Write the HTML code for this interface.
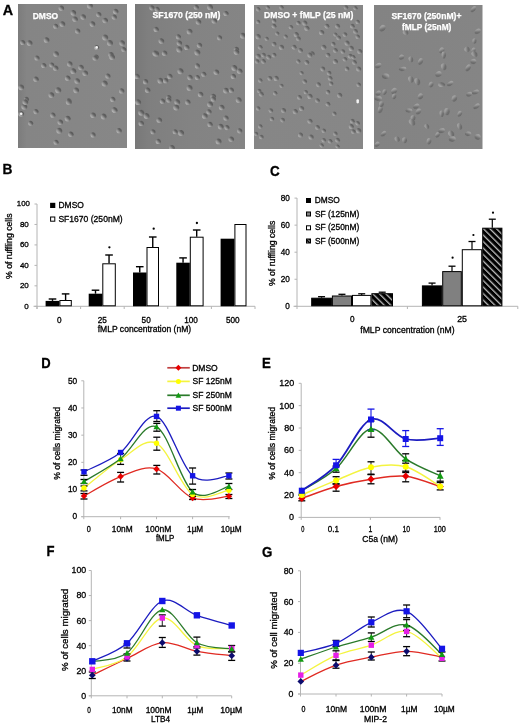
<!DOCTYPE html>
<html><head><meta charset="utf-8"><style>
html,body{margin:0;padding:0;background:#fff;}
svg{display:block;font-family:"Liberation Sans",sans-serif;filter:blur(0.3px);}
</style></head><body>
<svg width="520" height="723" viewBox="0 0 520 723">
<defs>
<linearGradient id="cell" x1="0.15" y1="0.85" x2="0.85" y2="0.15">
<stop offset="0" stop-color="#b4b4b4"/><stop offset="0.22" stop-color="#a2a2a2"/><stop offset="0.42" stop-color="#888"/><stop offset="0.6" stop-color="#6a6a6a"/><stop offset="0.82" stop-color="#5a5a5a"/><stop offset="1" stop-color="#6c6c6c"/>
</linearGradient>
<linearGradient id="cell3" x1="0.15" y1="0.85" x2="0.85" y2="0.15">
<stop offset="0" stop-color="#b0b0b0"/><stop offset="0.22" stop-color="#a0a0a0"/><stop offset="0.42" stop-color="#888"/><stop offset="0.6" stop-color="#6c6c6c"/><stop offset="0.82" stop-color="#606060"/><stop offset="1" stop-color="#707070"/>
</linearGradient>
<linearGradient id="cell2" x1="0.15" y1="0.85" x2="0.85" y2="0.15">
<stop offset="0" stop-color="#a4a4a4"/><stop offset="0.25" stop-color="#9a9a9a"/><stop offset="0.45" stop-color="#868686"/><stop offset="0.65" stop-color="#727272"/><stop offset="0.85" stop-color="#6a6a6a"/><stop offset="1" stop-color="#787878"/>
</linearGradient>
<linearGradient id="bg0" x1="0" y1="0" x2="1" y2="0"><stop offset="0" stop-color="#7c7c7c"/><stop offset="0.08" stop-color="#858585"/><stop offset="1" stop-color="#878787"/></linearGradient>
<linearGradient id="bg1" x1="0" y1="0" x2="1" y2="0"><stop offset="0" stop-color="#787878"/><stop offset="0.12" stop-color="#7f7f7f"/><stop offset="0.5" stop-color="#838383"/><stop offset="1" stop-color="#858585"/></linearGradient>
<linearGradient id="bg2" x1="0" y1="0" x2="1" y2="0"><stop offset="0" stop-color="#868686"/><stop offset="1" stop-color="#878787"/></linearGradient>
<linearGradient id="bg3" x1="0" y1="0" x2="1" y2="0"><stop offset="0" stop-color="#838383"/><stop offset="1" stop-color="#858585"/></linearGradient>
<filter id="soft" x="-5%" y="-5%" width="110%" height="110%"><feGaussianBlur stdDeviation="0.45"/></filter>
</defs>
<rect width="520" height="723" fill="#fff"/>
<text x="2.64" y="14.9" font-size="14.8" font-weight="bold" fill="#000" stroke="#000" stroke-width="0.3" textLength="10.35" lengthAdjust="spacingAndGlyphs">A</text>
<rect x="18" y="4" width="109" height="144" fill="url(#bg0)"/>
<g clip-path="url(#clip0)" filter="url(#soft)">
<circle cx="61.4" cy="8.2" r="2.73" fill="url(#cell)"/>
<circle cx="73.4" cy="12.9" r="2.78" fill="url(#cell)"/>
<circle cx="89.9" cy="5.7" r="2.96" fill="url(#cell)"/>
<circle cx="115.7" cy="11.4" r="2.73" fill="url(#cell)"/>
<circle cx="75.1" cy="19.2" r="2.75" fill="url(#cell)"/>
<circle cx="83.2" cy="17.1" r="2.79" fill="url(#cell)"/>
<circle cx="98.8" cy="14.6" r="2.59" fill="url(#cell)"/>
<circle cx="105.2" cy="20.5" r="2.76" fill="url(#cell)"/>
<circle cx="92.5" cy="24.1" r="2.81" fill="url(#cell)"/>
<circle cx="62.4" cy="24.1" r="2.9" fill="url(#cell)"/>
<circle cx="55.7" cy="26.2" r="2.55" fill="url(#cell)"/>
<circle cx="77.7" cy="31.1" r="2.65" fill="url(#cell)"/>
<circle cx="22.7" cy="42.5" r="2.55" fill="url(#cell)"/>
<circle cx="29.6" cy="43.1" r="2.9" fill="url(#cell)"/>
<circle cx="46.6" cy="40" r="2.85" fill="url(#cell)"/>
<circle cx="96.7" cy="47.4" r="2.52" fill="url(#cell)"/>
<circle cx="105.2" cy="37.4" r="2.99" fill="url(#cell)"/>
<circle cx="110" cy="43.1" r="2.98" fill="url(#cell)"/>
<circle cx="122.1" cy="43.1" r="2.83" fill="url(#cell)"/>
<circle cx="56.1" cy="54.1" r="2.81" fill="url(#cell)"/>
<circle cx="37" cy="58" r="2.58" fill="url(#cell)"/>
<circle cx="96.3" cy="56.9" r="2.51" fill="url(#cell)"/>
<circle cx="111.1" cy="54.8" r="2.76" fill="url(#cell)"/>
<circle cx="123.8" cy="49.5" r="2.53" fill="url(#cell)"/>
<circle cx="114.3" cy="17.1" r="2.6" fill="url(#cell)"/>
<circle cx="43.8" cy="65.5" r="2.62" fill="url(#cell)"/>
<circle cx="51.8" cy="64.9" r="2.52" fill="url(#cell)"/>
<circle cx="55.7" cy="68.3" r="2.73" fill="url(#cell)"/>
<circle cx="69.8" cy="64" r="2.72" fill="url(#cell)"/>
<circle cx="73.4" cy="71.2" r="2.92" fill="url(#cell)"/>
<circle cx="81" cy="67.6" r="2.76" fill="url(#cell)"/>
<circle cx="85.3" cy="73.3" r="2.82" fill="url(#cell)"/>
<circle cx="67.7" cy="78.2" r="2.75" fill="url(#cell)"/>
<circle cx="77.2" cy="81" r="2.83" fill="url(#cell)"/>
<circle cx="36" cy="79.3" r="2.73" fill="url(#cell)"/>
<circle cx="107.9" cy="76.1" r="2.64" fill="url(#cell)"/>
<circle cx="104.7" cy="83.5" r="3" fill="url(#cell)"/>
<circle cx="58.2" cy="90.3" r="3" fill="url(#cell)"/>
<circle cx="51.4" cy="95.1" r="2.92" fill="url(#cell)"/>
<circle cx="76.2" cy="90.3" r="2.85" fill="url(#cell)"/>
<circle cx="121.7" cy="90.9" r="2.66" fill="url(#cell)"/>
<circle cx="112.8" cy="99.4" r="2.61" fill="url(#cell)"/>
<circle cx="68.8" cy="100.8" r="2.64" fill="url(#cell)"/>
<circle cx="26.5" cy="99.4" r="2.54" fill="url(#cell)"/>
<circle cx="21.2" cy="87.3" r="2.88" fill="url(#cell)"/>
<circle cx="95.2" cy="58.1" r="2.7" fill="url(#cell)"/>
<circle cx="112.1" cy="57.1" r="2.92" fill="url(#cell)"/>
<circle cx="114.3" cy="110" r="2.69" fill="url(#cell)"/>
<circle cx="24.3" cy="106.8" r="2.98" fill="url(#cell)"/>
<circle cx="21.2" cy="113.8" r="2.92" fill="url(#cell)"/>
<circle cx="30.7" cy="123.3" r="2.5" fill="url(#cell)"/>
<circle cx="52.9" cy="115.2" r="2.6" fill="url(#cell)"/>
<circle cx="67.7" cy="118.6" r="2.96" fill="url(#cell)"/>
<circle cx="60.3" cy="122.2" r="2.73" fill="url(#cell)"/>
<circle cx="59.3" cy="130.7" r="2.99" fill="url(#cell)"/>
<circle cx="70.9" cy="134.3" r="2.7" fill="url(#cell)"/>
<circle cx="56.1" cy="142.3" r="2.54" fill="url(#cell)"/>
<circle cx="93.1" cy="115.2" r="2.81" fill="url(#cell)"/>
<circle cx="103.7" cy="116.5" r="2.89" fill="url(#cell)"/>
<circle cx="114.9" cy="110.2" r="2.63" fill="url(#cell)"/>
<circle cx="93.1" cy="134.9" r="2.54" fill="url(#cell)"/>
<circle cx="119.1" cy="130.7" r="2.67" fill="url(#cell)"/>
<circle cx="68.8" cy="102.1" r="2.98" fill="url(#cell)"/>
<circle cx="25.4" cy="102.1" r="2.88" fill="url(#cell)"/>
<circle cx="36" cy="111.6" r="2.56" fill="url(#cell)"/>
<circle cx="21.2" cy="113.8" r="1.3" fill="#f4f4f4"/>
<circle cx="96.7" cy="47.4" r="1.3" fill="#f4f4f4"/>
</g>
<clipPath id="clip0"><rect x="18" y="4" width="109" height="144"/></clipPath>
<rect x="135" y="4" width="110" height="145" fill="url(#bg1)"/>
<g clip-path="url(#clip1)" filter="url(#soft)">
<circle cx="151.9" cy="7.8" r="2.62" fill="url(#cell)"/>
<circle cx="157.2" cy="9.3" r="2.55" fill="url(#cell)"/>
<circle cx="196.3" cy="7.2" r="2.53" fill="url(#cell)"/>
<circle cx="210.1" cy="7.2" r="2.9" fill="url(#cell)"/>
<circle cx="226" cy="13.5" r="2.59" fill="url(#cell)"/>
<circle cx="198.5" cy="22" r="2.78" fill="url(#cell)"/>
<circle cx="214.3" cy="20.9" r="2.72" fill="url(#cell)"/>
<circle cx="156.2" cy="29.4" r="2.6" fill="url(#cell)"/>
<circle cx="189.6" cy="31.5" r="2.87" fill="url(#cell)"/>
<circle cx="178.4" cy="36.8" r="2.57" fill="url(#cell)"/>
<circle cx="161.4" cy="41" r="2.82" fill="url(#cell)"/>
<circle cx="219.6" cy="37.8" r="2.56" fill="url(#cell)"/>
<circle cx="179.4" cy="43.1" r="2.71" fill="url(#cell)"/>
<circle cx="199.5" cy="45.3" r="2.61" fill="url(#cell)"/>
<circle cx="186.8" cy="47.4" r="2.63" fill="url(#cell)"/>
<circle cx="179.4" cy="49.5" r="2.99" fill="url(#cell)"/>
<circle cx="156.2" cy="53.7" r="2.9" fill="url(#cell)"/>
<circle cx="236.5" cy="49.5" r="2.65" fill="url(#cell)"/>
<circle cx="242.9" cy="35.7" r="2.94" fill="url(#cell)"/>
<circle cx="155.1" cy="53.2" r="2.61" fill="url(#cell)"/>
<circle cx="164.6" cy="53.2" r="2.7" fill="url(#cell)"/>
<circle cx="197.4" cy="52.5" r="2.93" fill="url(#cell)"/>
<circle cx="236.5" cy="52.1" r="2.82" fill="url(#cell)"/>
<circle cx="197.4" cy="65.9" r="2.55" fill="url(#cell)"/>
<circle cx="180.5" cy="71.2" r="2.99" fill="url(#cell)"/>
<circle cx="169.9" cy="76.4" r="2.61" fill="url(#cell)"/>
<circle cx="145.6" cy="81.7" r="2.63" fill="url(#cell)"/>
<circle cx="160.4" cy="80.7" r="2.89" fill="url(#cell)"/>
<circle cx="165.7" cy="80.7" r="2.66" fill="url(#cell)"/>
<circle cx="190" cy="77.5" r="2.65" fill="url(#cell)"/>
<circle cx="197.4" cy="77.5" r="2.54" fill="url(#cell)"/>
<circle cx="203.8" cy="74.3" r="2.55" fill="url(#cell)"/>
<circle cx="216.4" cy="72.2" r="2.79" fill="url(#cell)"/>
<circle cx="233.4" cy="76.4" r="2.62" fill="url(#cell)"/>
<circle cx="239.7" cy="71.2" r="2.8" fill="url(#cell)"/>
<circle cx="137.1" cy="76.4" r="2.69" fill="url(#cell)"/>
<circle cx="147.7" cy="90.2" r="2.73" fill="url(#cell)"/>
<circle cx="189.6" cy="88.1" r="2.98" fill="url(#cell)"/>
<circle cx="200.6" cy="94.4" r="2.74" fill="url(#cell)"/>
<circle cx="213.3" cy="96.5" r="2.79" fill="url(#cell)"/>
<circle cx="226" cy="90.6" r="2.93" fill="url(#cell)"/>
<circle cx="231.3" cy="90.2" r="2.59" fill="url(#cell)"/>
<circle cx="168.8" cy="97.6" r="2.58" fill="url(#cell)"/>
<circle cx="234.4" cy="68" r="2.95" fill="url(#cell)"/>
<circle cx="138.2" cy="102.2" r="2.91" fill="url(#cell)"/>
<circle cx="162.5" cy="101.2" r="2.62" fill="url(#cell)"/>
<circle cx="168.8" cy="100.1" r="2.59" fill="url(#cell)"/>
<circle cx="177.3" cy="102.2" r="2.87" fill="url(#cell)"/>
<circle cx="176.3" cy="107.5" r="2.97" fill="url(#cell)"/>
<circle cx="187.9" cy="102.2" r="2.6" fill="url(#cell)"/>
<circle cx="141.3" cy="112.8" r="2.98" fill="url(#cell)"/>
<circle cx="146.6" cy="116" r="2.94" fill="url(#cell)"/>
<circle cx="159.3" cy="120.2" r="2.8" fill="url(#cell)"/>
<circle cx="141.3" cy="123.4" r="2.71" fill="url(#cell)"/>
<circle cx="153" cy="131.8" r="2.55" fill="url(#cell)"/>
<circle cx="175.2" cy="131.8" r="2.52" fill="url(#cell)"/>
<circle cx="181.1" cy="132.9" r="2.98" fill="url(#cell)"/>
<circle cx="158.3" cy="141.4" r="2.62" fill="url(#cell)"/>
<circle cx="204.8" cy="116" r="2.85" fill="url(#cell)"/>
<circle cx="209" cy="111.8" r="2.63" fill="url(#cell)"/>
<circle cx="210.1" cy="104.3" r="2.91" fill="url(#cell)"/>
<circle cx="221.7" cy="107.5" r="2.8" fill="url(#cell)"/>
<circle cx="226" cy="118.1" r="2.65" fill="url(#cell)"/>
<circle cx="210.1" cy="124.4" r="2.59" fill="url(#cell)"/>
<circle cx="220.7" cy="126.6" r="2.86" fill="url(#cell)"/>
<circle cx="227" cy="127.6" r="2.53" fill="url(#cell)"/>
<circle cx="239.7" cy="130.8" r="2.61" fill="url(#cell)"/>
<circle cx="231.3" cy="139.3" r="2.78" fill="url(#cell)"/>
<circle cx="218.6" cy="141.4" r="2.93" fill="url(#cell)"/>
<circle cx="172" cy="147.7" r="2.81" fill="url(#cell)"/>
<circle cx="213.3" cy="99" r="2.64" fill="url(#cell)"/>
<circle cx="238.7" cy="100.1" r="2.96" fill="url(#cell)"/>
</g>
<clipPath id="clip1"><rect x="135" y="4" width="110" height="145"/></clipPath>
<rect x="254" y="5" width="109" height="144" fill="url(#bg2)"/>
<g clip-path="url(#clip2)" filter="url(#soft)">
<circle cx="258.2" cy="9.2" r="2.2" fill="url(#cell3)"/>
<circle cx="267.8" cy="7.5" r="2.11" fill="url(#cell3)"/>
<circle cx="281.5" cy="7.5" r="2.23" fill="url(#cell3)"/>
<circle cx="346" cy="7.5" r="2.32" fill="url(#cell3)"/>
<circle cx="355.5" cy="8.2" r="2.13" fill="url(#cell3)"/>
<circle cx="258.2" cy="21.9" r="2.19" fill="url(#cell3)"/>
<circle cx="274.1" cy="20.9" r="2.28" fill="url(#cell3)"/>
<circle cx="274.1" cy="26.2" r="2.39" fill="url(#cell3)"/>
<circle cx="291" cy="27.2" r="2.17" fill="url(#cell3)"/>
<circle cx="298.4" cy="23" r="2.28" fill="url(#cell3)"/>
<circle cx="304.8" cy="23" r="2.55" fill="url(#cell3)"/>
<circle cx="306.9" cy="28.3" r="2.59" fill="url(#cell3)"/>
<circle cx="327" cy="26.2" r="2.43" fill="url(#cell3)"/>
<circle cx="337.6" cy="26.2" r="2.45" fill="url(#cell3)"/>
<circle cx="352.4" cy="26.2" r="2.39" fill="url(#cell3)"/>
<circle cx="357.7" cy="21.9" r="2.17" fill="url(#cell3)"/>
<circle cx="277.3" cy="33.6" r="2.12" fill="url(#cell3)"/>
<circle cx="285.7" cy="36.7" r="2.11" fill="url(#cell3)"/>
<circle cx="296.3" cy="34.6" r="2.56" fill="url(#cell3)"/>
<circle cx="298.4" cy="38.8" r="2.45" fill="url(#cell3)"/>
<circle cx="321.7" cy="32.5" r="2.58" fill="url(#cell3)"/>
<circle cx="335.4" cy="34.6" r="2.11" fill="url(#cell3)"/>
<circle cx="338.6" cy="37.8" r="2.42" fill="url(#cell3)"/>
<circle cx="345" cy="34.6" r="2.34" fill="url(#cell3)"/>
<circle cx="355.5" cy="31.4" r="2.47" fill="url(#cell3)"/>
<circle cx="357.7" cy="36.7" r="2.26" fill="url(#cell3)"/>
<circle cx="258.2" cy="36.7" r="2.6" fill="url(#cell3)"/>
<circle cx="266.7" cy="38.8" r="2.14" fill="url(#cell3)"/>
<circle cx="260.3" cy="47.3" r="2.37" fill="url(#cell3)"/>
<circle cx="274.1" cy="44.1" r="2.47" fill="url(#cell3)"/>
<circle cx="281.5" cy="47.3" r="2.55" fill="url(#cell3)"/>
<circle cx="294.2" cy="47.3" r="2.47" fill="url(#cell3)"/>
<circle cx="300.5" cy="50.5" r="2.45" fill="url(#cell3)"/>
<circle cx="312.2" cy="53.7" r="2.5" fill="url(#cell3)"/>
<circle cx="323.8" cy="47.3" r="2.56" fill="url(#cell3)"/>
<circle cx="333.3" cy="44.1" r="2.28" fill="url(#cell3)"/>
<circle cx="335.4" cy="50.5" r="2.44" fill="url(#cell3)"/>
<circle cx="347.1" cy="43.1" r="2.55" fill="url(#cell3)"/>
<circle cx="351.3" cy="48.4" r="2.54" fill="url(#cell3)"/>
<circle cx="342.9" cy="51.5" r="2.31" fill="url(#cell3)"/>
<circle cx="359.8" cy="51.5" r="2.5" fill="url(#cell3)"/>
<circle cx="258.2" cy="56.2" r="2.53" fill="url(#cell3)"/>
<circle cx="263.5" cy="55.1" r="2.39" fill="url(#cell3)"/>
<circle cx="268.8" cy="57.2" r="2.41" fill="url(#cell3)"/>
<circle cx="257.2" cy="61.5" r="2.29" fill="url(#cell3)"/>
<circle cx="263.5" cy="61.5" r="2.39" fill="url(#cell3)"/>
<circle cx="274.1" cy="55.1" r="2.4" fill="url(#cell3)"/>
<circle cx="298.4" cy="61.5" r="2.14" fill="url(#cell3)"/>
<circle cx="306.9" cy="62.5" r="2.42" fill="url(#cell3)"/>
<circle cx="310" cy="55.1" r="2.6" fill="url(#cell3)"/>
<circle cx="335.4" cy="61.5" r="2.54" fill="url(#cell3)"/>
<circle cx="328" cy="55.1" r="2.46" fill="url(#cell3)"/>
<circle cx="345" cy="59.3" r="2.29" fill="url(#cell3)"/>
<circle cx="350.3" cy="56.2" r="2.47" fill="url(#cell3)"/>
<circle cx="354.5" cy="62.5" r="2.39" fill="url(#cell3)"/>
<circle cx="347.1" cy="68.9" r="2.32" fill="url(#cell3)"/>
<circle cx="358.7" cy="68.9" r="2.52" fill="url(#cell3)"/>
<circle cx="353.4" cy="57.2" r="2.14" fill="url(#cell3)"/>
<circle cx="322.8" cy="68.9" r="2.48" fill="url(#cell3)"/>
<circle cx="301.6" cy="73.1" r="2.11" fill="url(#cell3)"/>
<circle cx="329.1" cy="73.1" r="2.4" fill="url(#cell3)"/>
<circle cx="330.2" cy="78.4" r="2.34" fill="url(#cell3)"/>
<circle cx="331.2" cy="83.7" r="2.22" fill="url(#cell3)"/>
<circle cx="318.5" cy="84.7" r="2.45" fill="url(#cell3)"/>
<circle cx="304.8" cy="81.6" r="2.35" fill="url(#cell3)"/>
<circle cx="269.9" cy="78.4" r="2.41" fill="url(#cell3)"/>
<circle cx="276.2" cy="78.4" r="2.56" fill="url(#cell3)"/>
<circle cx="260.3" cy="80.5" r="2.23" fill="url(#cell3)"/>
<circle cx="281.5" cy="85.8" r="2.11" fill="url(#cell3)"/>
<circle cx="259.3" cy="91.1" r="2.25" fill="url(#cell3)"/>
<circle cx="261.4" cy="94.3" r="2.44" fill="url(#cell3)"/>
<circle cx="275.2" cy="93.2" r="2.2" fill="url(#cell3)"/>
<circle cx="305.8" cy="92.1" r="2.18" fill="url(#cell3)"/>
<circle cx="310" cy="96.4" r="2.55" fill="url(#cell3)"/>
<circle cx="299.5" cy="97.4" r="2.43" fill="url(#cell3)"/>
<circle cx="328" cy="92.1" r="2.32" fill="url(#cell3)"/>
<circle cx="339.7" cy="95.3" r="2.55" fill="url(#cell3)"/>
<circle cx="358.7" cy="84.7" r="2.26" fill="url(#cell3)"/>
<circle cx="317.5" cy="100.6" r="2.43" fill="url(#cell3)"/>
<circle cx="258.2" cy="108.5" r="2.2" fill="url(#cell3)"/>
<circle cx="270.9" cy="110.6" r="2.32" fill="url(#cell3)"/>
<circle cx="283.6" cy="110.6" r="2.5" fill="url(#cell3)"/>
<circle cx="295.3" cy="111.6" r="2.56" fill="url(#cell3)"/>
<circle cx="301.6" cy="108.5" r="2.54" fill="url(#cell3)"/>
<circle cx="272" cy="119" r="2.29" fill="url(#cell3)"/>
<circle cx="282.6" cy="120.1" r="2.39" fill="url(#cell3)"/>
<circle cx="260.3" cy="126.4" r="2.26" fill="url(#cell3)"/>
<circle cx="256.1" cy="133.8" r="2.17" fill="url(#cell3)"/>
<circle cx="261.4" cy="137" r="2.35" fill="url(#cell3)"/>
<circle cx="300.5" cy="134.9" r="2.52" fill="url(#cell3)"/>
<circle cx="310" cy="121.2" r="2.52" fill="url(#cell3)"/>
<circle cx="317.5" cy="127.5" r="2.46" fill="url(#cell3)"/>
<circle cx="311.1" cy="137" r="2.58" fill="url(#cell3)"/>
<circle cx="323.8" cy="130.7" r="2.24" fill="url(#cell3)"/>
<circle cx="334.4" cy="113.8" r="2.18" fill="url(#cell3)"/>
<circle cx="328" cy="104.2" r="2.33" fill="url(#cell3)"/>
<circle cx="335.4" cy="133.8" r="2.24" fill="url(#cell3)"/>
<circle cx="323.8" cy="140.2" r="2.21" fill="url(#cell3)"/>
<circle cx="330.2" cy="141.3" r="2.31" fill="url(#cell3)"/>
<circle cx="337.6" cy="140.2" r="2.41" fill="url(#cell3)"/>
<circle cx="352.4" cy="121.2" r="2.35" fill="url(#cell3)"/>
<circle cx="357.7" cy="123.3" r="2.26" fill="url(#cell3)"/>
<circle cx="351.3" cy="126.4" r="2.52" fill="url(#cell3)"/>
<circle cx="358.7" cy="130.7" r="2.59" fill="url(#cell3)"/>
<circle cx="353.4" cy="131.7" r="2.33" fill="url(#cell3)"/>
<circle cx="321.7" cy="145.5" r="2.14" fill="url(#cell3)"/>
<circle cx="337.6" cy="146.5" r="2.12" fill="url(#cell3)"/>
<circle cx="357.7" cy="100.6" r="1.3" fill="#f4f4f4"/>
<circle cx="357.7" cy="102.1" r="1.3" fill="#f4f4f4"/>
</g>
<clipPath id="clip2"><rect x="254" y="5" width="109" height="144"/></clipPath>
<rect x="374" y="5" width="108.5" height="144" fill="url(#bg3)"/>
<g clip-path="url(#clip3)" filter="url(#soft)">
<ellipse cx="473.4" cy="9.2" rx="3.67" ry="2.03" transform="rotate(127.55 473.4 9.2)" fill="url(#cell2)"/>
<ellipse cx="477.7" cy="31.4" rx="3.37" ry="2.25" transform="rotate(142.47 477.7 31.4)" fill="url(#cell2)"/>
<ellipse cx="474.5" cy="41" rx="2.82" ry="2.11" transform="rotate(81.87 474.5 41)" fill="url(#cell2)"/>
<ellipse cx="467.1" cy="49.4" rx="2.82" ry="2.66" transform="rotate(42.73 467.1 49.4)" fill="url(#cell2)"/>
<ellipse cx="473.4" cy="50.5" rx="2.94" ry="2.04" transform="rotate(113.25 473.4 50.5)" fill="url(#cell2)"/>
<ellipse cx="441.7" cy="50.5" rx="3.25" ry="2.5" transform="rotate(117.91 441.7 50.5)" fill="url(#cell2)"/>
<ellipse cx="382.5" cy="28.3" rx="3.61" ry="2.77" transform="rotate(123.21 382.5 28.3)" fill="url(#cell2)"/>
<ellipse cx="405.7" cy="32.5" rx="3" ry="2.38" transform="rotate(32.16 405.7 32.5)" fill="url(#cell2)"/>
<ellipse cx="401.5" cy="57.2" rx="2.81" ry="2.38" transform="rotate(128.55 401.5 57.2)" fill="url(#cell2)"/>
<ellipse cx="411" cy="59.3" rx="2.98" ry="2.22" transform="rotate(62.23 411 59.3)" fill="url(#cell2)"/>
<ellipse cx="420.5" cy="61.5" rx="3.5" ry="2.42" transform="rotate(110.6 420.5 61.5)" fill="url(#cell2)"/>
<ellipse cx="378.2" cy="65.7" rx="3.56" ry="2.31" transform="rotate(142.55 378.2 65.7)" fill="url(#cell2)"/>
<ellipse cx="402.6" cy="68.9" rx="3.71" ry="2.07" transform="rotate(167.87 402.6 68.9)" fill="url(#cell2)"/>
<ellipse cx="443.8" cy="55.1" rx="3.52" ry="2.1" transform="rotate(81.64 443.8 55.1)" fill="url(#cell2)"/>
<ellipse cx="443.8" cy="66.8" rx="3.43" ry="2.73" transform="rotate(67.82 443.8 66.8)" fill="url(#cell2)"/>
<ellipse cx="438.5" cy="74.2" rx="3.37" ry="2.7" transform="rotate(143.42 438.5 74.2)" fill="url(#cell2)"/>
<ellipse cx="468.1" cy="67.8" rx="3.74" ry="2.37" transform="rotate(117.24 468.1 67.8)" fill="url(#cell2)"/>
<ellipse cx="473.4" cy="61.5" rx="3" ry="2.58" transform="rotate(147.3 473.4 61.5)" fill="url(#cell2)"/>
<ellipse cx="474.5" cy="54.1" rx="3.44" ry="2.57" transform="rotate(38.39 474.5 54.1)" fill="url(#cell2)"/>
<ellipse cx="385.6" cy="76.3" rx="3.7" ry="2.78" transform="rotate(175.92 385.6 76.3)" fill="url(#cell2)"/>
<ellipse cx="411" cy="79.4" rx="3.34" ry="2.63" transform="rotate(57.67 411 79.4)" fill="url(#cell2)"/>
<ellipse cx="417.4" cy="81.6" rx="3.71" ry="2.68" transform="rotate(62.73 417.4 81.6)" fill="url(#cell2)"/>
<ellipse cx="431.1" cy="84.7" rx="2.88" ry="2.35" transform="rotate(99.05 431.1 84.7)" fill="url(#cell2)"/>
<ellipse cx="441.7" cy="84.7" rx="3.57" ry="2.39" transform="rotate(5.11 441.7 84.7)" fill="url(#cell2)"/>
<ellipse cx="450.2" cy="83.7" rx="3.61" ry="2.05" transform="rotate(143.97 450.2 83.7)" fill="url(#cell2)"/>
<ellipse cx="378.2" cy="93.2" rx="2.97" ry="2.27" transform="rotate(141.82 378.2 93.2)" fill="url(#cell2)"/>
<ellipse cx="384.6" cy="92.1" rx="2.94" ry="2.12" transform="rotate(92.97 384.6 92.1)" fill="url(#cell2)"/>
<ellipse cx="394.1" cy="91.1" rx="3.52" ry="2.67" transform="rotate(124.09 394.1 91.1)" fill="url(#cell2)"/>
<ellipse cx="378.2" cy="98.5" rx="3.75" ry="2.39" transform="rotate(170.85 378.2 98.5)" fill="url(#cell2)"/>
<ellipse cx="394.1" cy="96.4" rx="2.89" ry="2.18" transform="rotate(94.8 394.1 96.4)" fill="url(#cell2)"/>
<ellipse cx="420.5" cy="96.4" rx="3.09" ry="2.58" transform="rotate(115 420.5 96.4)" fill="url(#cell2)"/>
<ellipse cx="454.4" cy="98.5" rx="3.32" ry="2.67" transform="rotate(100.79 454.4 98.5)" fill="url(#cell2)"/>
<ellipse cx="469.2" cy="94.3" rx="3.11" ry="2.3" transform="rotate(152.15 469.2 94.3)" fill="url(#cell2)"/>
<ellipse cx="475.5" cy="92.1" rx="3.7" ry="2.17" transform="rotate(153.14 475.5 92.1)" fill="url(#cell2)"/>
<ellipse cx="380.3" cy="109.5" rx="3.77" ry="2.42" transform="rotate(103.14 380.3 109.5)" fill="url(#cell2)"/>
<ellipse cx="381.4" cy="104.2" rx="3" ry="2.43" transform="rotate(90.57 381.4 104.2)" fill="url(#cell2)"/>
<ellipse cx="408.9" cy="110.6" rx="3.41" ry="2.02" transform="rotate(174.49 408.9 110.6)" fill="url(#cell2)"/>
<ellipse cx="416.3" cy="106.3" rx="3.32" ry="2.32" transform="rotate(144.19 416.3 106.3)" fill="url(#cell2)"/>
<ellipse cx="418.4" cy="111.6" rx="3.36" ry="2.39" transform="rotate(124.38 418.4 111.6)" fill="url(#cell2)"/>
<ellipse cx="413.1" cy="118" rx="2.87" ry="2.43" transform="rotate(74.48 413.1 118)" fill="url(#cell2)"/>
<ellipse cx="412.1" cy="122.2" rx="3.76" ry="2.74" transform="rotate(48.46 412.1 122.2)" fill="url(#cell2)"/>
<ellipse cx="441.7" cy="113.8" rx="3.27" ry="2.1" transform="rotate(78.06 441.7 113.8)" fill="url(#cell2)"/>
<ellipse cx="447" cy="111.6" rx="3.62" ry="2.72" transform="rotate(85.78 447 111.6)" fill="url(#cell2)"/>
<ellipse cx="459.7" cy="113.8" rx="3.12" ry="2.15" transform="rotate(111.22 459.7 113.8)" fill="url(#cell2)"/>
<ellipse cx="476.6" cy="106.3" rx="3.73" ry="2.1" transform="rotate(140.27 476.6 106.3)" fill="url(#cell2)"/>
<ellipse cx="426.9" cy="126.4" rx="2.82" ry="2.16" transform="rotate(40.91 426.9 126.4)" fill="url(#cell2)"/>
<ellipse cx="459.7" cy="126.4" rx="3.49" ry="2.26" transform="rotate(63.96 459.7 126.4)" fill="url(#cell2)"/>
<ellipse cx="383.5" cy="133.8" rx="3.42" ry="2.08" transform="rotate(131.56 383.5 133.8)" fill="url(#cell2)"/>
<ellipse cx="397.3" cy="139.1" rx="2.92" ry="2.41" transform="rotate(45.1 397.3 139.1)" fill="url(#cell2)"/>
<ellipse cx="404.7" cy="140.2" rx="3" ry="2.42" transform="rotate(78.62 404.7 140.2)" fill="url(#cell2)"/>
<ellipse cx="429" cy="141.3" rx="3.18" ry="2.33" transform="rotate(95.28 429 141.3)" fill="url(#cell2)"/>
<ellipse cx="437.5" cy="134.9" rx="2.96" ry="2.16" transform="rotate(113.64 437.5 134.9)" fill="url(#cell2)"/>
<ellipse cx="441.7" cy="130.7" rx="3.44" ry="2.42" transform="rotate(153.23 441.7 130.7)" fill="url(#cell2)"/>
<ellipse cx="451.2" cy="133.8" rx="3.41" ry="2.69" transform="rotate(41.88 451.2 133.8)" fill="url(#cell2)"/>
<ellipse cx="452.3" cy="139.1" rx="3.54" ry="2.65" transform="rotate(162.48 452.3 139.1)" fill="url(#cell2)"/>
<ellipse cx="468.1" cy="133.8" rx="3.12" ry="2.25" transform="rotate(166.1 468.1 133.8)" fill="url(#cell2)"/>
<ellipse cx="477.7" cy="137" rx="3.02" ry="2.8" transform="rotate(159.76 477.7 137)" fill="url(#cell2)"/>
<ellipse cx="377.2" cy="144.4" rx="2.93" ry="2.19" transform="rotate(130.78 377.2 144.4)" fill="url(#cell2)"/>
</g>
<clipPath id="clip3"><rect x="374" y="5" width="108.5" height="144"/></clipPath>
<text x="32.75" y="19" font-size="8.5" font-weight="bold" fill="#fff" stroke="#fff" stroke-width="0.25" textLength="25.33" lengthAdjust="spacingAndGlyphs">DMSO</text>
<text x="152.54" y="18.4" font-size="8.6" font-weight="bold" fill="#fff" stroke="#fff" stroke-width="0.25" textLength="67.86" lengthAdjust="spacingAndGlyphs">SF1670 (250 nM)</text>
<text x="264.04" y="17.6" font-size="8.6" font-weight="bold" fill="#fff" stroke="#fff" stroke-width="0.25" textLength="89.28" lengthAdjust="spacingAndGlyphs">DMSO + fMLP (25 nM)</text>
<text x="391.54" y="18.7" font-size="8.6" font-weight="bold" fill="#fff" stroke="#fff" stroke-width="0.25" textLength="69.88" lengthAdjust="spacingAndGlyphs">SF1670 (250nM)+</text>
<text x="402.08" y="29.8" font-size="8.6" font-weight="bold" fill="#fff" stroke="#fff" stroke-width="0.25" textLength="49.31" lengthAdjust="spacingAndGlyphs">fMLP (25nM)</text>
<text x="2.5" y="174.2" font-size="14.8" font-weight="bold" fill="#000" stroke="#000" stroke-width="0.3" textLength="9.94" lengthAdjust="spacingAndGlyphs">B</text>
<line x1="37" y1="204" x2="37" y2="309" stroke="#b4b4b4" stroke-width="1"/>
<line x1="33.5" y1="306.3" x2="255" y2="306.3" stroke="#b4b4b4" stroke-width="1"/>
<line x1="34.5" y1="306.3" x2="37" y2="306.3" stroke="#b4b4b4" stroke-width="1"/>
<line x1="34.5" y1="285.84" x2="37" y2="285.84" stroke="#b4b4b4" stroke-width="1"/>
<line x1="34.5" y1="265.38" x2="37" y2="265.38" stroke="#b4b4b4" stroke-width="1"/>
<line x1="34.5" y1="244.92" x2="37" y2="244.92" stroke="#b4b4b4" stroke-width="1"/>
<line x1="34.5" y1="224.46" x2="37" y2="224.46" stroke="#b4b4b4" stroke-width="1"/>
<line x1="34.5" y1="204" x2="37" y2="204" stroke="#b4b4b4" stroke-width="1"/>
<line x1="37" y1="306.3" x2="37" y2="309" stroke="#b4b4b4" stroke-width="1"/>
<line x1="80.6" y1="306.3" x2="80.6" y2="309" stroke="#b4b4b4" stroke-width="1"/>
<line x1="124.2" y1="306.3" x2="124.2" y2="309" stroke="#b4b4b4" stroke-width="1"/>
<line x1="167.8" y1="306.3" x2="167.8" y2="309" stroke="#b4b4b4" stroke-width="1"/>
<line x1="211.4" y1="306.3" x2="211.4" y2="309" stroke="#b4b4b4" stroke-width="1"/>
<line x1="255" y1="306.3" x2="255" y2="309" stroke="#b4b4b4" stroke-width="1"/>
<text x="24.34" y="308.5" font-size="8" fill="#000" stroke="#000" stroke-width="0.3" textLength="4.45" lengthAdjust="spacingAndGlyphs">0</text>
<text x="19.9" y="288.04" font-size="8" fill="#000" stroke="#000" stroke-width="0.3" textLength="8.9" lengthAdjust="spacingAndGlyphs">20</text>
<text x="19.9" y="267.58" font-size="8" fill="#000" stroke="#000" stroke-width="0.3" textLength="8.9" lengthAdjust="spacingAndGlyphs">40</text>
<text x="19.9" y="247.12" font-size="8" fill="#000" stroke="#000" stroke-width="0.3" textLength="8.9" lengthAdjust="spacingAndGlyphs">60</text>
<text x="19.9" y="226.66" font-size="8" fill="#000" stroke="#000" stroke-width="0.3" textLength="8.9" lengthAdjust="spacingAndGlyphs">80</text>
<text x="16.81" y="205.6" font-size="8" fill="#000" stroke="#000" stroke-width="0.3" textLength="13.09" lengthAdjust="spacingAndGlyphs">100</text>
<text transform="translate(12.09,279) rotate(-90)" x="0" y="0" font-size="8.4" fill="#000" stroke="#000" stroke-width="0.3" textLength="65.51" lengthAdjust="spacingAndGlyphs">% of ruffling cells</text>
<rect x="45.6" y="300.9" width="13.8" height="5.4" fill="#000"/>
<rect x="59.9" y="300.5" width="11.4" height="5.3" fill="#fff" stroke="#000" stroke-width="1"/>
<line x1="52.5" y1="300.9" x2="52.5" y2="299" stroke="#000" stroke-width="1.4"/>
<line x1="48.7" y1="299" x2="56.3" y2="299" stroke="#000" stroke-width="1.4"/>
<line x1="65.6" y1="300" x2="65.6" y2="293.9" stroke="#000" stroke-width="1.4"/>
<line x1="61.8" y1="293.9" x2="69.4" y2="293.9" stroke="#000" stroke-width="1.4"/>
<rect x="88.7" y="293.7" width="13.6" height="12.6" fill="#000"/>
<rect x="102.8" y="263.8" width="12.5" height="42" fill="#fff" stroke="#000" stroke-width="1"/>
<line x1="95.5" y1="293.7" x2="95.5" y2="290.2" stroke="#000" stroke-width="1.4"/>
<line x1="91.7" y1="290.2" x2="99.3" y2="290.2" stroke="#000" stroke-width="1.4"/>
<line x1="109.05" y1="263.3" x2="109.05" y2="255" stroke="#000" stroke-width="1.4"/>
<line x1="105.25" y1="255" x2="112.85" y2="255" stroke="#000" stroke-width="1.4"/>
<circle cx="109.4" cy="247.3" r="1.15" fill="#000"/>
<rect x="133" y="272.5" width="13.5" height="33.8" fill="#000"/>
<rect x="147" y="247.5" width="11.5" height="58.3" fill="#fff" stroke="#000" stroke-width="1"/>
<line x1="139.75" y1="272.5" x2="139.75" y2="266.7" stroke="#000" stroke-width="1.4"/>
<line x1="135.95" y1="266.7" x2="143.55" y2="266.7" stroke="#000" stroke-width="1.4"/>
<line x1="152.75" y1="247" x2="152.75" y2="237" stroke="#000" stroke-width="1.4"/>
<line x1="148.95" y1="237" x2="156.55" y2="237" stroke="#000" stroke-width="1.4"/>
<circle cx="153.7" cy="228.7" r="1.15" fill="#000"/>
<rect x="176.3" y="262.7" width="13.5" height="43.6" fill="#000"/>
<rect x="190.3" y="237.2" width="12.8" height="68.6" fill="#fff" stroke="#000" stroke-width="1"/>
<line x1="183.05" y1="262.7" x2="183.05" y2="257.9" stroke="#000" stroke-width="1.4"/>
<line x1="179.25" y1="257.9" x2="186.85" y2="257.9" stroke="#000" stroke-width="1.4"/>
<line x1="196.7" y1="236.7" x2="196.7" y2="230" stroke="#000" stroke-width="1.4"/>
<line x1="192.9" y1="230" x2="200.5" y2="230" stroke="#000" stroke-width="1.4"/>
<circle cx="196.9" cy="223.0" r="1.15" fill="#000"/>
<rect x="220.6" y="238.7" width="13.8" height="67.6" fill="#000"/>
<rect x="234.9" y="224.5" width="11.1" height="81.3" fill="#fff" stroke="#000" stroke-width="1"/>
<rect x="50.1" y="202.8" width="5.2" height="5.2" fill="#000"/>
<rect x="50.6" y="217" width="4.2" height="4.2" fill="#fff" stroke="#000" stroke-width="1"/>
<text x="58.53" y="207.6" font-size="8.5" fill="#000" stroke="#000" stroke-width="0.3" textLength="25.3" lengthAdjust="spacingAndGlyphs">DMSO</text>
<text x="58.41" y="221.6" font-size="8.5" fill="#000" stroke="#000" stroke-width="0.3" textLength="64.23" lengthAdjust="spacingAndGlyphs">SF1670 (250nM)</text>
<text x="56.95" y="322.8" font-size="8.2" fill="#000" stroke="#000" stroke-width="0.3" textLength="4.56" lengthAdjust="spacingAndGlyphs">0</text>
<text x="97.71" y="322.8" font-size="8.2" fill="#000" stroke="#000" stroke-width="0.3" textLength="9.12" lengthAdjust="spacingAndGlyphs">25</text>
<text x="141.63" y="322.8" font-size="8.2" fill="#000" stroke="#000" stroke-width="0.3" textLength="9.12" lengthAdjust="spacingAndGlyphs">50</text>
<text x="184.26" y="322.8" font-size="8.2" fill="#000" stroke="#000" stroke-width="0.3" textLength="13.68" lengthAdjust="spacingAndGlyphs">100</text>
<text x="225.9" y="322.8" font-size="8.2" fill="#000" stroke="#000" stroke-width="0.3" textLength="13.68" lengthAdjust="spacingAndGlyphs">500</text>
<text x="97.67" y="332.2" font-size="8.5" fill="#000" stroke="#000" stroke-width="0.3" textLength="93.55" lengthAdjust="spacingAndGlyphs">fMLP concentration (nM)</text>
<text x="269.96" y="175.6" font-size="14.8" font-weight="bold" fill="#000" stroke="#000" stroke-width="0.3" textLength="9.7" lengthAdjust="spacingAndGlyphs">C</text>
<line x1="297" y1="198" x2="297" y2="309" stroke="#b4b4b4" stroke-width="1"/>
<line x1="293.5" y1="306.3" x2="517.8" y2="306.3" stroke="#b4b4b4" stroke-width="1"/>
<line x1="517.8" y1="306.3" x2="517.8" y2="309" stroke="#b4b4b4" stroke-width="1"/>
<line x1="407.4" y1="306.3" x2="407.4" y2="309" stroke="#b4b4b4" stroke-width="1"/>
<line x1="294.5" y1="306.3" x2="297" y2="306.3" stroke="#b4b4b4" stroke-width="1"/>
<line x1="294.5" y1="279.25" x2="297" y2="279.25" stroke="#b4b4b4" stroke-width="1"/>
<line x1="294.5" y1="252.2" x2="297" y2="252.2" stroke="#b4b4b4" stroke-width="1"/>
<line x1="294.5" y1="225.15" x2="297" y2="225.15" stroke="#b4b4b4" stroke-width="1"/>
<line x1="294.5" y1="198.1" x2="297" y2="198.1" stroke="#b4b4b4" stroke-width="1"/>
<text x="285.24" y="309" font-size="8.2" fill="#000" stroke="#000" stroke-width="0.3" textLength="4.56" lengthAdjust="spacingAndGlyphs">0</text>
<text x="280.69" y="281.95" font-size="8.2" fill="#000" stroke="#000" stroke-width="0.3" textLength="9.12" lengthAdjust="spacingAndGlyphs">20</text>
<text x="280.69" y="254.9" font-size="8.2" fill="#000" stroke="#000" stroke-width="0.3" textLength="9.12" lengthAdjust="spacingAndGlyphs">40</text>
<text x="280.69" y="227.85" font-size="8.2" fill="#000" stroke="#000" stroke-width="0.3" textLength="9.12" lengthAdjust="spacingAndGlyphs">60</text>
<text x="280.68" y="200.8" font-size="8.2" fill="#000" stroke="#000" stroke-width="0.3" textLength="9.12" lengthAdjust="spacingAndGlyphs">80</text>
<text transform="translate(274.74,286.1) rotate(-90)" x="0" y="0" font-size="8.6" fill="#000" stroke="#000" stroke-width="0.3" textLength="65.41" lengthAdjust="spacingAndGlyphs">% of ruffling cells</text>
<pattern id="hatch" patternUnits="userSpaceOnUse" width="4.6" height="4.6" patternTransform="rotate(-45)"><rect width="4.6" height="4.6" fill="#000"/><rect x="0" y="0" width="1.3" height="4.6" fill="#c0c0c0"/></pattern>
<pattern id="hatch2" patternUnits="userSpaceOnUse" width="2.4" height="2.4" patternTransform="rotate(-45)"><rect width="2.4" height="2.4" fill="#000"/><rect x="0" y="0" width="0.9" height="2.4" fill="#aaa"/></pattern>
<rect x="311.7" y="298.2" width="19.7" height="7.6" fill="#000" stroke="#000" stroke-width="1"/>
<line x1="321.55" y1="297.7" x2="321.55" y2="296.7" stroke="#000" stroke-width="1.2"/>
<line x1="318.05" y1="296.7" x2="325.05" y2="296.7" stroke="#000" stroke-width="1.3"/>
<rect x="332.4" y="296" width="19.1" height="9.8" fill="#808080" stroke="#000" stroke-width="1"/>
<line x1="341.95" y1="295.5" x2="341.95" y2="294.3" stroke="#000" stroke-width="1.2"/>
<line x1="338.45" y1="294.3" x2="345.45" y2="294.3" stroke="#000" stroke-width="1.3"/>
<rect x="352.5" y="295.4" width="18.4" height="10.4" fill="#fff" stroke="#000" stroke-width="1"/>
<line x1="361.7" y1="294.9" x2="361.7" y2="293.8" stroke="#000" stroke-width="1.2"/>
<line x1="358.2" y1="293.8" x2="365.2" y2="293.8" stroke="#000" stroke-width="1.3"/>
<rect x="371.9" y="293.7" width="20.6" height="12.1" fill="url(#hatch)" stroke="#000" stroke-width="1"/>
<line x1="382.2" y1="293.2" x2="382.2" y2="292.2" stroke="#000" stroke-width="1.2"/>
<line x1="378.7" y1="292.2" x2="385.7" y2="292.2" stroke="#000" stroke-width="1.3"/>
<rect x="422.4" y="285.9" width="19.3" height="19.9" fill="#000" stroke="#000" stroke-width="1"/>
<line x1="432.05" y1="285.4" x2="432.05" y2="283.1" stroke="#000" stroke-width="1.2"/>
<line x1="428.55" y1="283.1" x2="435.55" y2="283.1" stroke="#000" stroke-width="1.3"/>
<rect x="442.7" y="271.6" width="18.6" height="34.2" fill="#808080" stroke="#000" stroke-width="1"/>
<line x1="452" y1="271.1" x2="452" y2="266.2" stroke="#000" stroke-width="1.2"/>
<line x1="448.5" y1="266.2" x2="455.5" y2="266.2" stroke="#000" stroke-width="1.3"/>
<rect x="462.3" y="249.7" width="19.4" height="56.1" fill="#fff" stroke="#000" stroke-width="1"/>
<line x1="472" y1="249.2" x2="472" y2="241.5" stroke="#000" stroke-width="1.2"/>
<line x1="468.5" y1="241.5" x2="475.5" y2="241.5" stroke="#000" stroke-width="1.3"/>
<rect x="482.7" y="228.2" width="19.2" height="77.6" fill="url(#hatch)" stroke="#000" stroke-width="1"/>
<line x1="492.3" y1="227.7" x2="492.3" y2="219.2" stroke="#000" stroke-width="1.2"/>
<line x1="488.8" y1="219.2" x2="495.8" y2="219.2" stroke="#000" stroke-width="1.3"/>
<circle cx="452.6" cy="257.7" r="1.1" fill="#000"/>
<circle cx="473.4" cy="235.0" r="1.1" fill="#000"/>
<circle cx="493.0" cy="212.7" r="1.1" fill="#000"/>
<rect x="306.5" y="198.5" width="4" height="4" fill="#000" stroke="#000" stroke-width="1"/>
<text x="314.73" y="203.1" font-size="8.4" fill="#000" stroke="#000" stroke-width="0.3" textLength="24.98" lengthAdjust="spacingAndGlyphs">DMSO</text>
<rect x="306.5" y="212" width="4" height="4" fill="#808080" stroke="#000" stroke-width="1"/>
<text x="315.02" y="216.6" font-size="8.4" fill="#000" stroke="#000" stroke-width="0.3" textLength="44.32" lengthAdjust="spacingAndGlyphs">SF (125nM)</text>
<rect x="306.5" y="225.8" width="4" height="4" fill="#fff" stroke="#000" stroke-width="1"/>
<text x="315.02" y="230.4" font-size="8.4" fill="#000" stroke="#000" stroke-width="0.3" textLength="44.32" lengthAdjust="spacingAndGlyphs">SF (250nM)</text>
<rect x="306.5" y="239" width="4" height="4" fill="url(#hatch2)" stroke="#000" stroke-width="1"/>
<text x="315.02" y="243.6" font-size="8.4" fill="#000" stroke="#000" stroke-width="0.3" textLength="44.32" lengthAdjust="spacingAndGlyphs">SF (500nM)</text>
<text x="349.97" y="321.6" font-size="8.2" fill="#000" stroke="#000" stroke-width="0.3" textLength="4.56" lengthAdjust="spacingAndGlyphs">0</text>
<text x="457.16" y="322.1" font-size="8.2" fill="#000" stroke="#000" stroke-width="0.3" textLength="9.81" lengthAdjust="spacingAndGlyphs">25</text>
<text x="360.27" y="333" font-size="8.5" fill="#000" stroke="#000" stroke-width="0.3" textLength="94.36" lengthAdjust="spacingAndGlyphs">fMLP concentration (nM)</text>
<text x="41.25" y="367.9" font-size="14.8" font-weight="bold" fill="#000" stroke="#000" stroke-width="0.3" textLength="9.39" lengthAdjust="spacingAndGlyphs">D</text>
<line x1="83.8" y1="380.8" x2="83.8" y2="519.2" stroke="#b4b4b4" stroke-width="1"/>
<line x1="81.3" y1="516.7" x2="229.7" y2="516.7" stroke="#b4b4b4" stroke-width="1"/>
<line x1="81.3" y1="516.7" x2="83.8" y2="516.7" stroke="#b4b4b4" stroke-width="1"/>
<line x1="81.3" y1="489.52" x2="83.8" y2="489.52" stroke="#b4b4b4" stroke-width="1"/>
<line x1="81.3" y1="462.34" x2="83.8" y2="462.34" stroke="#b4b4b4" stroke-width="1"/>
<line x1="81.3" y1="435.16" x2="83.8" y2="435.16" stroke="#b4b4b4" stroke-width="1"/>
<line x1="81.3" y1="407.98" x2="83.8" y2="407.98" stroke="#b4b4b4" stroke-width="1"/>
<line x1="81.3" y1="380.8" x2="83.8" y2="380.8" stroke="#b4b4b4" stroke-width="1"/>
<text x="72.58" y="519.4" font-size="8.3" fill="#000" stroke="#000" stroke-width="0.3" textLength="4.62" lengthAdjust="spacingAndGlyphs">0</text>
<text x="67.98" y="492.22" font-size="8.3" fill="#000" stroke="#000" stroke-width="0.3" textLength="9.23" lengthAdjust="spacingAndGlyphs">10</text>
<text x="67.98" y="465.04" font-size="8.3" fill="#000" stroke="#000" stroke-width="0.3" textLength="9.23" lengthAdjust="spacingAndGlyphs">20</text>
<text x="67.98" y="437.86" font-size="8.3" fill="#000" stroke="#000" stroke-width="0.3" textLength="9.23" lengthAdjust="spacingAndGlyphs">30</text>
<text x="67.98" y="410.68" font-size="8.3" fill="#000" stroke="#000" stroke-width="0.3" textLength="9.23" lengthAdjust="spacingAndGlyphs">40</text>
<text x="67.98" y="383.5" font-size="8.3" fill="#000" stroke="#000" stroke-width="0.3" textLength="9.23" lengthAdjust="spacingAndGlyphs">50</text>
<line x1="120.6" y1="516.7" x2="120.6" y2="519.2" stroke="#b4b4b4" stroke-width="1"/>
<line x1="156.5" y1="516.7" x2="156.5" y2="519.2" stroke="#b4b4b4" stroke-width="1"/>
<line x1="192.6" y1="516.7" x2="192.6" y2="519.2" stroke="#b4b4b4" stroke-width="1"/>
<line x1="228.9" y1="516.7" x2="228.9" y2="519.2" stroke="#b4b4b4" stroke-width="1"/>
<text x="86.81" y="531.8" font-size="8.3" fill="#000" stroke="#000" stroke-width="0.3" textLength="4.06" lengthAdjust="spacingAndGlyphs">0</text>
<text x="111.78" y="531.8" font-size="8.3" fill="#000" stroke="#000" stroke-width="0.3" textLength="20.8" lengthAdjust="spacingAndGlyphs">10nM</text>
<text x="145.26" y="531.8" font-size="8.3" fill="#000" stroke="#000" stroke-width="0.3" textLength="26.04" lengthAdjust="spacingAndGlyphs">100nM</text>
<text x="187.09" y="531.8" font-size="8.3" fill="#000" stroke="#000" stroke-width="0.3" textLength="16.12" lengthAdjust="spacingAndGlyphs">1µM</text>
<text x="220.78" y="531.8" font-size="8.3" fill="#000" stroke="#000" stroke-width="0.3" textLength="20.79" lengthAdjust="spacingAndGlyphs">10µM</text>
<path d="M84,496 C90.1,492.77 108.52,481.12 120.6,476.6 C132.68,472.08 144.5,465.33 156.5,468.9 C168.5,472.47 180.53,493.45 192.6,498 C204.67,502.55 222.85,496.5 228.9,496.2" fill="none" stroke="#e02a22" stroke-width="1.3"/>
<path d="M84,488 C90.1,483.28 108.52,467.15 120.6,459.7 C132.68,452.25 144.5,437.5 156.5,443.3 C168.5,449.1 180.53,486.68 192.6,494.5 C204.67,502.32 222.85,490.92 228.9,490.2" fill="none" stroke="#f4f440" stroke-width="1.3"/>
<path d="M84,481.5 C90.1,477.7 108.52,467.82 120.6,458.7 C132.68,449.58 144.5,421.27 156.5,426.8 C168.5,432.33 180.53,481.97 192.6,491.9 C204.67,501.83 222.85,487.32 228.9,486.4" fill="none" stroke="#2a7a2a" stroke-width="1.3"/>
<path d="M84,471.8 C90.1,468.58 108.52,461.73 120.6,452.5 C132.68,443.27 144.5,412.52 156.5,416.4 C168.5,420.28 180.53,465.9 192.6,475.8 C204.67,485.7 222.85,475.8 228.9,475.8" fill="none" stroke="#1c1cc0" stroke-width="1.3"/>
<line x1="84" y1="470" x2="84" y2="475.3" stroke="#333" stroke-width="1.1"/>
<line x1="80.5" y1="470" x2="87.5" y2="470" stroke="#000" stroke-width="1.3"/>
<line x1="80.5" y1="475.3" x2="87.5" y2="475.3" stroke="#000" stroke-width="1.3"/>
<line x1="84" y1="479.5" x2="84" y2="483.5" stroke="#333" stroke-width="1.1"/>
<line x1="80.5" y1="479.5" x2="87.5" y2="479.5" stroke="#000" stroke-width="1.3"/>
<line x1="80.5" y1="483.5" x2="87.5" y2="483.5" stroke="#000" stroke-width="1.3"/>
<line x1="84" y1="486" x2="84" y2="490.9" stroke="#333" stroke-width="1.1"/>
<line x1="80.5" y1="486" x2="87.5" y2="486" stroke="#000" stroke-width="1.3"/>
<line x1="80.5" y1="490.9" x2="87.5" y2="490.9" stroke="#000" stroke-width="1.3"/>
<line x1="84" y1="493.5" x2="84" y2="499" stroke="#333" stroke-width="1.1"/>
<line x1="80.5" y1="493.5" x2="87.5" y2="493.5" stroke="#000" stroke-width="1.3"/>
<line x1="80.5" y1="499" x2="87.5" y2="499" stroke="#000" stroke-width="1.3"/>
<line x1="120.6" y1="453.5" x2="120.6" y2="464.4" stroke="#333" stroke-width="1.1"/>
<line x1="117.1" y1="453.5" x2="124.1" y2="453.5" stroke="#000" stroke-width="1.3"/>
<line x1="117.1" y1="464.4" x2="124.1" y2="464.4" stroke="#000" stroke-width="1.3"/>
<line x1="120.6" y1="472.4" x2="120.6" y2="482" stroke="#333" stroke-width="1.1"/>
<line x1="117.1" y1="472.4" x2="124.1" y2="472.4" stroke="#000" stroke-width="1.3"/>
<line x1="117.1" y1="482" x2="124.1" y2="482" stroke="#000" stroke-width="1.3"/>
<line x1="156.8" y1="410.7" x2="156.8" y2="421.5" stroke="#333" stroke-width="1.1"/>
<line x1="153.3" y1="410.7" x2="160.3" y2="410.7" stroke="#000" stroke-width="1.3"/>
<line x1="153.3" y1="421.5" x2="160.3" y2="421.5" stroke="#000" stroke-width="1.3"/>
<line x1="156.8" y1="423.4" x2="156.8" y2="431.2" stroke="#333" stroke-width="1.1"/>
<line x1="153.3" y1="423.4" x2="160.3" y2="423.4" stroke="#000" stroke-width="1.3"/>
<line x1="153.3" y1="431.2" x2="160.3" y2="431.2" stroke="#000" stroke-width="1.3"/>
<line x1="156.8" y1="437.2" x2="156.8" y2="450.2" stroke="#333" stroke-width="1.1"/>
<line x1="153.3" y1="437.2" x2="160.3" y2="437.2" stroke="#000" stroke-width="1.3"/>
<line x1="153.3" y1="450.2" x2="160.3" y2="450.2" stroke="#000" stroke-width="1.3"/>
<line x1="156.8" y1="465.4" x2="156.8" y2="474" stroke="#333" stroke-width="1.1"/>
<line x1="153.3" y1="465.4" x2="160.3" y2="465.4" stroke="#000" stroke-width="1.3"/>
<line x1="153.3" y1="474" x2="160.3" y2="474" stroke="#000" stroke-width="1.3"/>
<line x1="192.6" y1="468" x2="192.6" y2="484.1" stroke="#333" stroke-width="1.1"/>
<line x1="189.1" y1="468" x2="196.1" y2="468" stroke="#000" stroke-width="1.3"/>
<line x1="189.1" y1="484.1" x2="196.1" y2="484.1" stroke="#000" stroke-width="1.3"/>
<line x1="192.6" y1="489.5" x2="192.6" y2="494.5" stroke="#333" stroke-width="1.1"/>
<line x1="189.1" y1="489.5" x2="196.1" y2="489.5" stroke="#000" stroke-width="1.3"/>
<line x1="189.1" y1="494.5" x2="196.1" y2="494.5" stroke="#000" stroke-width="1.3"/>
<line x1="192.6" y1="496.5" x2="192.6" y2="499.5" stroke="#333" stroke-width="1.1"/>
<line x1="189.1" y1="496.5" x2="196.1" y2="496.5" stroke="#000" stroke-width="1.3"/>
<line x1="189.1" y1="499.5" x2="196.1" y2="499.5" stroke="#000" stroke-width="1.3"/>
<line x1="228.9" y1="473" x2="228.9" y2="479" stroke="#333" stroke-width="1.1"/>
<line x1="225.4" y1="473" x2="232.4" y2="473" stroke="#000" stroke-width="1.3"/>
<line x1="225.4" y1="479" x2="232.4" y2="479" stroke="#000" stroke-width="1.3"/>
<line x1="228.9" y1="483.5" x2="228.9" y2="489.5" stroke="#333" stroke-width="1.1"/>
<line x1="225.4" y1="483.5" x2="232.4" y2="483.5" stroke="#000" stroke-width="1.3"/>
<line x1="225.4" y1="489.5" x2="232.4" y2="489.5" stroke="#000" stroke-width="1.3"/>
<line x1="228.9" y1="494.5" x2="228.9" y2="498.5" stroke="#333" stroke-width="1.1"/>
<line x1="225.4" y1="494.5" x2="232.4" y2="494.5" stroke="#000" stroke-width="1.3"/>
<line x1="225.4" y1="498.5" x2="232.4" y2="498.5" stroke="#000" stroke-width="1.3"/>
<path d="M84,492.76 L87.24,496 L84,499.24 L80.76,496Z" fill="#e80000"/>
<path d="M120.6,473.36 L123.84,476.6 L120.6,479.84 L117.36,476.6Z" fill="#e80000"/>
<path d="M156.5,465.66 L159.74,468.9 L156.5,472.14 L153.26,468.9Z" fill="#e80000"/>
<path d="M192.6,494.76 L195.84,498 L192.6,501.24 L189.36,498Z" fill="#e80000"/>
<path d="M228.9,492.96 L232.14,496.2 L228.9,499.44 L225.66,496.2Z" fill="#e80000"/>
<circle cx="84" cy="488" r="2.7" fill="#ffff00"/>
<circle cx="120.6" cy="459.7" r="2.7" fill="#ffff00"/>
<circle cx="156.5" cy="443.3" r="2.7" fill="#ffff00"/>
<circle cx="192.6" cy="494.5" r="2.7" fill="#ffff00"/>
<circle cx="228.9" cy="490.2" r="2.7" fill="#ffff00"/>
<path d="M84,478.39 L87.11,484.06 L80.89,484.06Z" fill="#129a12"/>
<path d="M120.6,455.59 L123.7,461.26 L117.49,461.26Z" fill="#129a12"/>
<path d="M156.5,423.69 L159.6,429.37 L153.4,429.37Z" fill="#129a12"/>
<path d="M192.6,488.79 L195.7,494.46 L189.5,494.46Z" fill="#129a12"/>
<path d="M228.9,483.29 L232,488.96 L225.8,488.96Z" fill="#129a12"/>
<rect x="81.3" y="469.1" width="5.4" height="5.4" fill="#1414e6"/>
<rect x="117.9" y="449.8" width="5.4" height="5.4" fill="#1414e6"/>
<rect x="153.8" y="413.7" width="5.4" height="5.4" fill="#1414e6"/>
<rect x="189.9" y="473.1" width="5.4" height="5.4" fill="#1414e6"/>
<rect x="226.2" y="473.1" width="5.4" height="5.4" fill="#1414e6"/>
<text transform="translate(60.13,479.7) rotate(-90)" x="0" y="0" font-size="8.6" fill="#000" stroke="#000" stroke-width="0.3" textLength="72.69" lengthAdjust="spacingAndGlyphs">% of cells migrated</text>
<text x="155.88" y="541.4" font-size="8.3" fill="#000" stroke="#000" stroke-width="0.3" textLength="18.55" lengthAdjust="spacingAndGlyphs">fMLP</text>
<line x1="167.3" y1="367.8" x2="189.8" y2="367.8" stroke="#c04040" stroke-width="1.7"/>
<path d="M178.4,364.8 L181.4,367.8 L178.4,370.8 L175.4,367.8Z" fill="#e80000"/>
<text x="192.22" y="370.6" font-size="8.5" fill="#000" stroke="#000" stroke-width="0.3" textLength="25.5" lengthAdjust="spacingAndGlyphs">DMSO</text>
<line x1="167.3" y1="381.4" x2="189.8" y2="381.4" stroke="#f4f440" stroke-width="1.7"/>
<circle cx="178.4" cy="381.4" r="2.5" fill="#ffff00"/>
<text x="192.52" y="384.2" font-size="8.5" fill="#000" stroke="#000" stroke-width="0.3" textLength="39.21" lengthAdjust="spacingAndGlyphs">SF 125nM</text>
<line x1="167.3" y1="395.3" x2="189.8" y2="395.3" stroke="#2a7a2a" stroke-width="1.7"/>
<path d="M178.4,392.43 L181.28,397.68 L175.53,397.68Z" fill="#129a12"/>
<text x="192.52" y="398.1" font-size="8.5" fill="#000" stroke="#000" stroke-width="0.3" textLength="39.21" lengthAdjust="spacingAndGlyphs">SF 250nM</text>
<line x1="167.3" y1="408.2" x2="189.8" y2="408.2" stroke="#1c1cc0" stroke-width="1.7"/>
<rect x="175.9" y="405.7" width="5" height="5" fill="#1414e6"/>
<text x="192.52" y="411" font-size="8.5" fill="#000" stroke="#000" stroke-width="0.3" textLength="39.21" lengthAdjust="spacingAndGlyphs">SF 500nM</text>
<text x="262.04" y="368.1" font-size="14.8" font-weight="bold" fill="#000" stroke="#000" stroke-width="0.3" textLength="8.85" lengthAdjust="spacingAndGlyphs">E</text>
<line x1="301.2" y1="383.3" x2="301.2" y2="519.9" stroke="#b4b4b4" stroke-width="1"/>
<line x1="298.7" y1="517.4" x2="440.2" y2="517.4" stroke="#b4b4b4" stroke-width="1"/>
<line x1="298.7" y1="517.4" x2="301.2" y2="517.4" stroke="#b4b4b4" stroke-width="1"/>
<line x1="298.7" y1="495.05" x2="301.2" y2="495.05" stroke="#b4b4b4" stroke-width="1"/>
<line x1="298.7" y1="472.7" x2="301.2" y2="472.7" stroke="#b4b4b4" stroke-width="1"/>
<line x1="298.7" y1="450.35" x2="301.2" y2="450.35" stroke="#b4b4b4" stroke-width="1"/>
<line x1="298.7" y1="428" x2="301.2" y2="428" stroke="#b4b4b4" stroke-width="1"/>
<line x1="298.7" y1="405.65" x2="301.2" y2="405.65" stroke="#b4b4b4" stroke-width="1"/>
<line x1="298.7" y1="383.3" x2="301.2" y2="383.3" stroke="#b4b4b4" stroke-width="1"/>
<text x="289.12" y="520.3" font-size="9" fill="#000" stroke="#000" stroke-width="0.3" textLength="5.01" lengthAdjust="spacingAndGlyphs">0</text>
<text x="284.12" y="497.95" font-size="9" fill="#000" stroke="#000" stroke-width="0.3" textLength="10.01" lengthAdjust="spacingAndGlyphs">20</text>
<text x="284.12" y="475.6" font-size="9" fill="#000" stroke="#000" stroke-width="0.3" textLength="10.01" lengthAdjust="spacingAndGlyphs">40</text>
<text x="284.12" y="453.25" font-size="9" fill="#000" stroke="#000" stroke-width="0.3" textLength="10.01" lengthAdjust="spacingAndGlyphs">60</text>
<text x="284.13" y="430.9" font-size="9" fill="#000" stroke="#000" stroke-width="0.3" textLength="10.01" lengthAdjust="spacingAndGlyphs">80</text>
<text x="279.13" y="408.55" font-size="9" fill="#000" stroke="#000" stroke-width="0.3" textLength="15.02" lengthAdjust="spacingAndGlyphs">100</text>
<text x="279.13" y="386.2" font-size="9" fill="#000" stroke="#000" stroke-width="0.3" textLength="15.02" lengthAdjust="spacingAndGlyphs">120</text>
<line x1="370.4" y1="517.4" x2="370.4" y2="519.9" stroke="#b4b4b4" stroke-width="1"/>
<line x1="440" y1="517.4" x2="440" y2="519.9" stroke="#b4b4b4" stroke-width="1"/>
<text x="301.37" y="532.1" font-size="8.3" fill="#000" stroke="#000" stroke-width="0.3" textLength="3.13" lengthAdjust="spacingAndGlyphs">0</text>
<text x="327.78" y="532.1" font-size="8.3" fill="#000" stroke="#000" stroke-width="0.3" textLength="11.19" lengthAdjust="spacingAndGlyphs">0.1</text>
<text x="368.38" y="532.1" font-size="8.3" fill="#000" stroke="#000" stroke-width="0.3" textLength="3.84" lengthAdjust="spacingAndGlyphs">1</text>
<text x="402.38" y="532.1" font-size="8.3" fill="#000" stroke="#000" stroke-width="0.3" textLength="7.68" lengthAdjust="spacingAndGlyphs">10</text>
<text x="433.65" y="532.1" font-size="8.3" fill="#000" stroke="#000" stroke-width="0.3" textLength="12.12" lengthAdjust="spacingAndGlyphs">100</text>
<path d="M301.8,498.4 C307.52,496.42 324.57,489.7 336.1,486.5 C347.63,483.3 359.4,480.92 371,479.2 C382.6,477.48 394.17,474.97 405.7,476.2 C417.23,477.43 434.45,484.87 440.2,486.6" fill="none" stroke="#e02a22" stroke-width="1.5"/>
<path d="M301.8,495 C307.52,492.57 324.57,485.03 336.1,480.4 C347.63,475.77 359.4,469.47 371,467.2 C382.6,464.93 394.17,463.6 405.7,466.8 C417.23,470 434.45,483.13 440.2,486.4" fill="none" stroke="#f4f440" stroke-width="1.5"/>
<path d="M301.8,490.7 C307.52,487 324.57,478.77 336.1,468.5 C347.63,458.23 359.4,430.72 371,429.1 C382.6,427.48 394.17,451.02 405.7,458.8 C417.23,466.58 434.45,472.97 440.2,475.8" fill="none" stroke="#2a7a2a" stroke-width="1.5"/>
<path d="M301.8,490.7 C307.52,486.47 324.57,477.17 336.1,465.3 C347.63,453.43 359.4,423.88 371,419.5 C382.6,415.12 394.17,435.88 405.7,439 C417.23,442.12 434.45,438.33 440.2,438.2" fill="none" stroke="#1c1cc0" stroke-width="1.8"/>
<line x1="301.8" y1="495" x2="301.8" y2="500.8" stroke="#333" stroke-width="1.1"/>
<line x1="298.3" y1="495" x2="305.3" y2="495" stroke="#000" stroke-width="1.3"/>
<line x1="298.3" y1="500.8" x2="305.3" y2="500.8" stroke="#000" stroke-width="1.3"/>
<line x1="336.1" y1="466" x2="336.1" y2="472.2" stroke="#333" stroke-width="1.1"/>
<line x1="332.6" y1="466" x2="339.6" y2="466" stroke="#000" stroke-width="1.3"/>
<line x1="332.6" y1="472.2" x2="339.6" y2="472.2" stroke="#000" stroke-width="1.3"/>
<line x1="336.1" y1="476.7" x2="336.1" y2="484" stroke="#333" stroke-width="1.1"/>
<line x1="332.6" y1="476.7" x2="339.6" y2="476.7" stroke="#000" stroke-width="1.3"/>
<line x1="332.6" y1="484" x2="339.6" y2="484" stroke="#000" stroke-width="1.3"/>
<line x1="336.1" y1="483.9" x2="336.1" y2="491.2" stroke="#333" stroke-width="1.1"/>
<line x1="332.6" y1="483.9" x2="339.6" y2="483.9" stroke="#000" stroke-width="1.3"/>
<line x1="332.6" y1="491.2" x2="339.6" y2="491.2" stroke="#000" stroke-width="1.3"/>
<line x1="336.1" y1="459.4" x2="336.1" y2="467" stroke="#1414e6" stroke-width="1.1"/>
<line x1="332.6" y1="459.4" x2="339.6" y2="459.4" stroke="#1414e6" stroke-width="1.3"/>
<line x1="332.6" y1="467" x2="339.6" y2="467" stroke="#1414e6" stroke-width="1.3"/>
<line x1="371" y1="421" x2="371" y2="437.2" stroke="#333" stroke-width="1.1"/>
<line x1="367.5" y1="421" x2="374.5" y2="421" stroke="#000" stroke-width="1.3"/>
<line x1="367.5" y1="437.2" x2="374.5" y2="437.2" stroke="#000" stroke-width="1.3"/>
<line x1="371" y1="461.8" x2="371" y2="474.6" stroke="#333" stroke-width="1.1"/>
<line x1="367.5" y1="461.8" x2="374.5" y2="461.8" stroke="#000" stroke-width="1.3"/>
<line x1="367.5" y1="474.6" x2="374.5" y2="474.6" stroke="#000" stroke-width="1.3"/>
<line x1="371" y1="474.2" x2="371" y2="483.8" stroke="#333" stroke-width="1.1"/>
<line x1="367.5" y1="474.2" x2="374.5" y2="474.2" stroke="#000" stroke-width="1.3"/>
<line x1="367.5" y1="483.8" x2="374.5" y2="483.8" stroke="#000" stroke-width="1.3"/>
<line x1="405.7" y1="453.8" x2="405.7" y2="463.2" stroke="#333" stroke-width="1.1"/>
<line x1="402.2" y1="453.8" x2="409.2" y2="453.8" stroke="#000" stroke-width="1.3"/>
<line x1="402.2" y1="463.2" x2="409.2" y2="463.2" stroke="#000" stroke-width="1.3"/>
<line x1="405.7" y1="460.5" x2="405.7" y2="472.5" stroke="#333" stroke-width="1.1"/>
<line x1="402.2" y1="460.5" x2="409.2" y2="460.5" stroke="#000" stroke-width="1.3"/>
<line x1="402.2" y1="472.5" x2="409.2" y2="472.5" stroke="#000" stroke-width="1.3"/>
<line x1="405.7" y1="471.2" x2="405.7" y2="481.8" stroke="#333" stroke-width="1.1"/>
<line x1="402.2" y1="471.2" x2="409.2" y2="471.2" stroke="#000" stroke-width="1.3"/>
<line x1="402.2" y1="481.8" x2="409.2" y2="481.8" stroke="#000" stroke-width="1.3"/>
<line x1="440.2" y1="471.2" x2="440.2" y2="481.2" stroke="#333" stroke-width="1.1"/>
<line x1="436.7" y1="471.2" x2="443.7" y2="471.2" stroke="#000" stroke-width="1.3"/>
<line x1="436.7" y1="481.2" x2="443.7" y2="481.2" stroke="#000" stroke-width="1.3"/>
<line x1="440.2" y1="482.5" x2="440.2" y2="489.9" stroke="#333" stroke-width="1.1"/>
<line x1="436.7" y1="482.5" x2="443.7" y2="482.5" stroke="#000" stroke-width="1.3"/>
<line x1="436.7" y1="489.9" x2="443.7" y2="489.9" stroke="#000" stroke-width="1.3"/>
<line x1="371" y1="409.1" x2="371" y2="430" stroke="#1414e6" stroke-width="1.1"/>
<line x1="367.5" y1="409.1" x2="374.5" y2="409.1" stroke="#1414e6" stroke-width="1.3"/>
<line x1="367.5" y1="430" x2="374.5" y2="430" stroke="#1414e6" stroke-width="1.3"/>
<line x1="405.7" y1="430.6" x2="405.7" y2="446.5" stroke="#1414e6" stroke-width="1.1"/>
<line x1="402.2" y1="430.6" x2="409.2" y2="430.6" stroke="#1414e6" stroke-width="1.3"/>
<line x1="402.2" y1="446.5" x2="409.2" y2="446.5" stroke="#1414e6" stroke-width="1.3"/>
<line x1="440.2" y1="428.7" x2="440.2" y2="445.4" stroke="#1414e6" stroke-width="1.1"/>
<line x1="436.7" y1="428.7" x2="443.7" y2="428.7" stroke="#1414e6" stroke-width="1.3"/>
<line x1="436.7" y1="445.4" x2="443.7" y2="445.4" stroke="#1414e6" stroke-width="1.3"/>
<path d="M301.8,494.8 L305.4,498.4 L301.8,502 L298.2,498.4Z" fill="#e80000"/>
<path d="M336.1,482.9 L339.7,486.5 L336.1,490.1 L332.5,486.5Z" fill="#e80000"/>
<path d="M371,475.6 L374.6,479.2 L371,482.8 L367.4,479.2Z" fill="#e80000"/>
<path d="M405.7,472.6 L409.3,476.2 L405.7,479.8 L402.1,476.2Z" fill="#e80000"/>
<path d="M440.2,483 L443.8,486.6 L440.2,490.2 L436.6,486.6Z" fill="#e80000"/>
<circle cx="301.8" cy="495" r="3" fill="#ffff00"/>
<circle cx="336.1" cy="480.4" r="3" fill="#ffff00"/>
<circle cx="371" cy="467.2" r="3" fill="#ffff00"/>
<circle cx="405.7" cy="466.8" r="3" fill="#ffff00"/>
<circle cx="440.2" cy="486.4" r="3" fill="#ffff00"/>
<path d="M301.8,487.25 L305.25,493.55 L298.35,493.55Z" fill="#129a12"/>
<path d="M336.1,465.05 L339.55,471.35 L332.65,471.35Z" fill="#129a12"/>
<path d="M371,425.65 L374.45,431.95 L367.55,431.95Z" fill="#129a12"/>
<path d="M405.7,455.35 L409.15,461.65 L402.25,461.65Z" fill="#129a12"/>
<path d="M440.2,472.35 L443.65,478.65 L436.75,478.65Z" fill="#129a12"/>
<rect x="298.8" y="487.7" width="6" height="6" fill="#1414e6"/>
<rect x="333.1" y="462.3" width="6" height="6" fill="#1414e6"/>
<rect x="368" y="416.5" width="6" height="6" fill="#1414e6"/>
<rect x="402.7" y="436" width="6" height="6" fill="#1414e6"/>
<rect x="437.2" y="435.2" width="6" height="6" fill="#1414e6"/>
<text transform="translate(275.33,479.7) rotate(-90)" x="0" y="0" font-size="8.6" fill="#000" stroke="#000" stroke-width="0.3" textLength="72.69" lengthAdjust="spacingAndGlyphs">% of cells migrated</text>
<text x="362.37" y="541.6" font-size="8.3" fill="#000" stroke="#000" stroke-width="0.3" textLength="35.46" lengthAdjust="spacingAndGlyphs">C5a (nM)</text>
<text x="46.45" y="556.1" font-size="14.8" font-weight="bold" fill="#000" stroke="#000" stroke-width="0.3" textLength="8.03" lengthAdjust="spacingAndGlyphs">F</text>
<line x1="91.3" y1="570.5" x2="91.3" y2="698.3" stroke="#b4b4b4" stroke-width="1"/>
<line x1="88.8" y1="695.8" x2="231.7" y2="695.8" stroke="#b4b4b4" stroke-width="1"/>
<line x1="88.8" y1="695.8" x2="91.3" y2="695.8" stroke="#b4b4b4" stroke-width="1"/>
<line x1="88.8" y1="670.74" x2="91.3" y2="670.74" stroke="#b4b4b4" stroke-width="1"/>
<line x1="88.8" y1="645.68" x2="91.3" y2="645.68" stroke="#b4b4b4" stroke-width="1"/>
<line x1="88.8" y1="620.62" x2="91.3" y2="620.62" stroke="#b4b4b4" stroke-width="1"/>
<line x1="88.8" y1="595.56" x2="91.3" y2="595.56" stroke="#b4b4b4" stroke-width="1"/>
<line x1="88.8" y1="570.5" x2="91.3" y2="570.5" stroke="#b4b4b4" stroke-width="1"/>
<text x="81.32" y="698.7" font-size="8.8" fill="#000" stroke="#000" stroke-width="0.3" textLength="4.89" lengthAdjust="spacingAndGlyphs">0</text>
<text x="76.44" y="673.64" font-size="8.8" fill="#000" stroke="#000" stroke-width="0.3" textLength="9.79" lengthAdjust="spacingAndGlyphs">20</text>
<text x="76.44" y="648.58" font-size="8.8" fill="#000" stroke="#000" stroke-width="0.3" textLength="9.79" lengthAdjust="spacingAndGlyphs">40</text>
<text x="76.44" y="623.52" font-size="8.8" fill="#000" stroke="#000" stroke-width="0.3" textLength="9.79" lengthAdjust="spacingAndGlyphs">60</text>
<text x="76.44" y="598.46" font-size="8.8" fill="#000" stroke="#000" stroke-width="0.3" textLength="9.79" lengthAdjust="spacingAndGlyphs">80</text>
<text x="71.56" y="573.4" font-size="8.8" fill="#000" stroke="#000" stroke-width="0.3" textLength="14.68" lengthAdjust="spacingAndGlyphs">100</text>
<line x1="127" y1="695.8" x2="127" y2="698.3" stroke="#b4b4b4" stroke-width="1"/>
<line x1="162.3" y1="695.8" x2="162.3" y2="698.3" stroke="#b4b4b4" stroke-width="1"/>
<line x1="196.9" y1="695.8" x2="196.9" y2="698.3" stroke="#b4b4b4" stroke-width="1"/>
<line x1="231.7" y1="695.8" x2="231.7" y2="698.3" stroke="#b4b4b4" stroke-width="1"/>
<text x="87.24" y="712.6" font-size="8.3" fill="#000" stroke="#000" stroke-width="0.3" textLength="3.59" lengthAdjust="spacingAndGlyphs">0</text>
<text x="111.88" y="712.6" font-size="8.3" fill="#000" stroke="#000" stroke-width="0.3" textLength="20.7" lengthAdjust="spacingAndGlyphs">10nM</text>
<text x="145.66" y="712.6" font-size="8.3" fill="#000" stroke="#000" stroke-width="0.3" textLength="25.94" lengthAdjust="spacingAndGlyphs">100nM</text>
<text x="187.29" y="712.6" font-size="8.3" fill="#000" stroke="#000" stroke-width="0.3" textLength="16.01" lengthAdjust="spacingAndGlyphs">1µM</text>
<text x="220.25" y="712.6" font-size="8.3" fill="#000" stroke="#000" stroke-width="0.3" textLength="21.86" lengthAdjust="spacingAndGlyphs">10µM</text>
<path d="M92.3,675.2 C98.08,672.42 115.33,663.92 127,658.5 C138.67,653.08 150.65,643.9 162.3,642.7 C173.95,641.5 185.33,649.13 196.9,651.3 C208.47,653.47 225.9,654.97 231.7,655.7" fill="none" stroke="#e02a22" stroke-width="1.3"/>
<path d="M92.3,669.4 C98.08,667.32 115.33,665.47 127,656.9 C138.67,648.33 150.65,619.88 162.3,618 C173.95,616.12 185.33,640.52 196.9,645.6 C208.47,650.68 225.9,648.02 231.7,648.5" fill="none" stroke="#f4f440" stroke-width="1.3"/>
<path d="M92.3,661.5 C98.08,660.1 115.33,661.72 127,653.1 C138.67,644.48 150.65,611.52 162.3,609.8 C173.95,608.08 185.33,636.3 196.9,642.8 C208.47,649.3 225.9,647.8 231.7,648.8" fill="none" stroke="#2a7a2a" stroke-width="1.3"/>
<path d="M92.3,661.3 C98.08,658.3 115.33,653.35 127,643.3 C138.67,633.25 150.65,605.67 162.3,601 C173.95,596.33 185.33,611.22 196.9,615.3 C208.47,619.38 225.9,623.8 231.7,625.5" fill="none" stroke="#1c1cc0" stroke-width="1.3"/>
<line x1="92.3" y1="672" x2="92.3" y2="678.5" stroke="#333" stroke-width="1.1"/>
<line x1="88.8" y1="672" x2="95.8" y2="672" stroke="#000" stroke-width="1.3"/>
<line x1="88.8" y1="678.5" x2="95.8" y2="678.5" stroke="#000" stroke-width="1.3"/>
<line x1="127" y1="644" x2="127" y2="648" stroke="#333" stroke-width="1.1"/>
<line x1="123.5" y1="644" x2="130.5" y2="644" stroke="#000" stroke-width="1.3"/>
<line x1="123.5" y1="648" x2="130.5" y2="648" stroke="#000" stroke-width="1.3"/>
<line x1="127" y1="654" x2="127" y2="661" stroke="#333" stroke-width="1.1"/>
<line x1="123.5" y1="654" x2="130.5" y2="654" stroke="#000" stroke-width="1.3"/>
<line x1="123.5" y1="661" x2="130.5" y2="661" stroke="#000" stroke-width="1.3"/>
<line x1="162.3" y1="614.9" x2="162.3" y2="626.1" stroke="#333" stroke-width="1.1"/>
<line x1="158.8" y1="614.9" x2="165.8" y2="614.9" stroke="#000" stroke-width="1.3"/>
<line x1="158.8" y1="626.1" x2="165.8" y2="626.1" stroke="#000" stroke-width="1.3"/>
<line x1="162.3" y1="637.5" x2="162.3" y2="647.4" stroke="#333" stroke-width="1.1"/>
<line x1="158.8" y1="637.5" x2="165.8" y2="637.5" stroke="#000" stroke-width="1.3"/>
<line x1="158.8" y1="647.4" x2="165.8" y2="647.4" stroke="#000" stroke-width="1.3"/>
<line x1="196.9" y1="637.1" x2="196.9" y2="648" stroke="#333" stroke-width="1.1"/>
<line x1="193.4" y1="637.1" x2="200.4" y2="637.1" stroke="#000" stroke-width="1.3"/>
<line x1="193.4" y1="648" x2="200.4" y2="648" stroke="#000" stroke-width="1.3"/>
<line x1="196.9" y1="646.6" x2="196.9" y2="655.1" stroke="#333" stroke-width="1.1"/>
<line x1="193.4" y1="646.6" x2="200.4" y2="646.6" stroke="#000" stroke-width="1.3"/>
<line x1="193.4" y1="655.1" x2="200.4" y2="655.1" stroke="#000" stroke-width="1.3"/>
<line x1="231.7" y1="645.5" x2="231.7" y2="652" stroke="#333" stroke-width="1.1"/>
<line x1="228.2" y1="645.5" x2="235.2" y2="645.5" stroke="#000" stroke-width="1.3"/>
<line x1="228.2" y1="652" x2="235.2" y2="652" stroke="#000" stroke-width="1.3"/>
<line x1="231.7" y1="651.5" x2="231.7" y2="660.4" stroke="#333" stroke-width="1.1"/>
<line x1="228.2" y1="651.5" x2="235.2" y2="651.5" stroke="#000" stroke-width="1.3"/>
<line x1="228.2" y1="660.4" x2="235.2" y2="660.4" stroke="#000" stroke-width="1.3"/>
<path d="M92.3,671.84 L95.66,675.2 L92.3,678.56 L88.94,675.2Z" fill="#0c0c6e"/>
<path d="M127,655.14 L130.36,658.5 L127,661.86 L123.64,658.5Z" fill="#0c0c6e"/>
<path d="M162.3,639.34 L165.66,642.7 L162.3,646.06 L158.94,642.7Z" fill="#0c0c6e"/>
<path d="M196.9,647.94 L200.26,651.3 L196.9,654.66 L193.54,651.3Z" fill="#0c0c6e"/>
<path d="M231.7,652.34 L235.06,655.7 L231.7,659.06 L228.34,655.7Z" fill="#0c0c6e"/>
<rect x="89.6" y="666.7" width="5.4" height="5.4" fill="#e61ee6"/>
<rect x="124.3" y="654.2" width="5.4" height="5.4" fill="#e61ee6"/>
<rect x="159.6" y="615.3" width="5.4" height="5.4" fill="#e61ee6"/>
<rect x="194.2" y="642.9" width="5.4" height="5.4" fill="#e61ee6"/>
<rect x="229" y="645.8" width="5.4" height="5.4" fill="#e61ee6"/>
<path d="M92.3,658.39 L95.41,664.07 L89.19,664.07Z" fill="#129a12"/>
<path d="M127,650 L130.1,655.67 L123.89,655.67Z" fill="#129a12"/>
<path d="M162.3,606.69 L165.41,612.37 L159.2,612.37Z" fill="#129a12"/>
<path d="M196.9,639.69 L200,645.37 L193.8,645.37Z" fill="#129a12"/>
<path d="M231.7,645.69 L234.8,651.37 L228.59,651.37Z" fill="#129a12"/>
<rect x="89.1" y="658.1" width="6.4" height="6.4" fill="#1414e6"/>
<rect x="123.8" y="640.1" width="6.4" height="6.4" fill="#1414e6"/>
<rect x="159.1" y="597.8" width="6.4" height="6.4" fill="#1414e6"/>
<rect x="193.7" y="612.1" width="6.4" height="6.4" fill="#1414e6"/>
<rect x="228.5" y="622.3" width="6.4" height="6.4" fill="#1414e6"/>
<text transform="translate(67.83,670.94) rotate(-90)" x="0" y="0" font-size="9.7" fill="#000" stroke="#000" stroke-width="0.3" textLength="82.2" lengthAdjust="spacingAndGlyphs">% of cells migrated</text>
<text x="150.94" y="721.6" font-size="8.3" fill="#000" stroke="#000" stroke-width="0.3" textLength="19.12" lengthAdjust="spacingAndGlyphs">LTB4</text>
<text x="261.97" y="557" font-size="14.8" font-weight="bold" fill="#000" stroke="#000" stroke-width="0.3" textLength="10.37" lengthAdjust="spacingAndGlyphs">G</text>
<line x1="300.5" y1="570.8" x2="300.5" y2="696.5" stroke="#b4b4b4" stroke-width="1"/>
<line x1="298" y1="694" x2="442" y2="694" stroke="#b4b4b4" stroke-width="1"/>
<line x1="298" y1="694" x2="300.5" y2="694" stroke="#b4b4b4" stroke-width="1"/>
<line x1="298" y1="663.2" x2="300.5" y2="663.2" stroke="#b4b4b4" stroke-width="1"/>
<line x1="298" y1="632.4" x2="300.5" y2="632.4" stroke="#b4b4b4" stroke-width="1"/>
<line x1="298" y1="601.6" x2="300.5" y2="601.6" stroke="#b4b4b4" stroke-width="1"/>
<line x1="298" y1="570.8" x2="300.5" y2="570.8" stroke="#b4b4b4" stroke-width="1"/>
<text x="288.52" y="696.9" font-size="8.8" fill="#000" stroke="#000" stroke-width="0.3" textLength="4.89" lengthAdjust="spacingAndGlyphs">0</text>
<text x="283.64" y="666.1" font-size="8.8" fill="#000" stroke="#000" stroke-width="0.3" textLength="9.79" lengthAdjust="spacingAndGlyphs">20</text>
<text x="283.64" y="635.3" font-size="8.8" fill="#000" stroke="#000" stroke-width="0.3" textLength="9.79" lengthAdjust="spacingAndGlyphs">40</text>
<text x="283.64" y="604.5" font-size="8.8" fill="#000" stroke="#000" stroke-width="0.3" textLength="9.79" lengthAdjust="spacingAndGlyphs">60</text>
<text x="283.64" y="573.7" font-size="8.8" fill="#000" stroke="#000" stroke-width="0.3" textLength="9.79" lengthAdjust="spacingAndGlyphs">80</text>
<line x1="336" y1="694" x2="336" y2="696.5" stroke="#b4b4b4" stroke-width="1"/>
<line x1="371.3" y1="694" x2="371.3" y2="696.5" stroke="#b4b4b4" stroke-width="1"/>
<line x1="406.6" y1="694" x2="406.6" y2="696.5" stroke="#b4b4b4" stroke-width="1"/>
<line x1="442" y1="694" x2="442" y2="696.5" stroke="#b4b4b4" stroke-width="1"/>
<text x="301.42" y="712.4" font-size="8.3" fill="#000" stroke="#000" stroke-width="0.3" textLength="3.94" lengthAdjust="spacingAndGlyphs">0</text>
<text x="325.76" y="712.4" font-size="8.3" fill="#000" stroke="#000" stroke-width="0.3" textLength="21.23" lengthAdjust="spacingAndGlyphs">10nM</text>
<text x="359.85" y="712.4" font-size="8.3" fill="#000" stroke="#000" stroke-width="0.3" textLength="26.57" lengthAdjust="spacingAndGlyphs">100nM</text>
<text x="401.07" y="712.4" font-size="8.3" fill="#000" stroke="#000" stroke-width="0.3" textLength="16.44" lengthAdjust="spacingAndGlyphs">1µM</text>
<text x="433.88" y="712.4" font-size="8.3" fill="#000" stroke="#000" stroke-width="0.3" textLength="20.9" lengthAdjust="spacingAndGlyphs">10µM</text>
<path d="M300.8,681.4 C306.67,678.7 324.25,669.23 336,665.2 C347.75,661.17 359.53,659.52 371.3,657.2 C383.07,654.88 394.82,651.33 406.6,651.3 C418.38,651.27 436.1,656.05 442,657" fill="none" stroke="#e02a22" stroke-width="1.3"/>
<path d="M300.8,675.1 C306.67,671.82 324.25,660.38 336,655.4 C347.75,650.42 359.53,649.2 371.3,645.2 C383.07,641.2 394.82,629.22 406.6,631.4 C418.38,633.58 436.1,653.82 442,658.3" fill="none" stroke="#f4f440" stroke-width="1.3"/>
<path d="M300.8,659.2 C306.67,657.17 324.25,650.68 336,647 C347.75,643.32 359.53,640.77 371.3,637.1 C383.07,633.43 394.82,622.1 406.6,625 C418.38,627.9 436.1,649.58 442,654.5" fill="none" stroke="#2a7a2a" stroke-width="1.3"/>
<path d="M300.8,652.9 C306.67,651.32 324.25,648.5 336,643.4 C347.75,638.3 359.53,627.65 371.3,622.3 C383.07,616.95 394.82,606.88 406.6,611.3 C418.38,615.72 436.1,642.55 442,648.8" fill="none" stroke="#1c1cc0" stroke-width="1.3"/>
<line x1="336" y1="640.4" x2="336" y2="646.4" stroke="#333" stroke-width="1.1"/>
<line x1="332.5" y1="640.4" x2="339.5" y2="640.4" stroke="#000" stroke-width="1.3"/>
<line x1="332.5" y1="646.4" x2="339.5" y2="646.4" stroke="#000" stroke-width="1.3"/>
<line x1="336" y1="650.8" x2="336" y2="659.9" stroke="#333" stroke-width="1.1"/>
<line x1="332.5" y1="650.8" x2="339.5" y2="650.8" stroke="#000" stroke-width="1.3"/>
<line x1="332.5" y1="659.9" x2="339.5" y2="659.9" stroke="#000" stroke-width="1.3"/>
<line x1="336" y1="660.5" x2="336" y2="668.2" stroke="#333" stroke-width="1.1"/>
<line x1="332.5" y1="660.5" x2="339.5" y2="660.5" stroke="#000" stroke-width="1.3"/>
<line x1="332.5" y1="668.2" x2="339.5" y2="668.2" stroke="#000" stroke-width="1.3"/>
<line x1="371.3" y1="617" x2="371.3" y2="627" stroke="#333" stroke-width="1.1"/>
<line x1="367.8" y1="617" x2="374.8" y2="617" stroke="#000" stroke-width="1.3"/>
<line x1="367.8" y1="627" x2="374.8" y2="627" stroke="#000" stroke-width="1.3"/>
<line x1="371.3" y1="632.9" x2="371.3" y2="641.5" stroke="#333" stroke-width="1.1"/>
<line x1="367.8" y1="632.9" x2="374.8" y2="632.9" stroke="#000" stroke-width="1.3"/>
<line x1="367.8" y1="641.5" x2="374.8" y2="641.5" stroke="#000" stroke-width="1.3"/>
<line x1="371.3" y1="652" x2="371.3" y2="660" stroke="#333" stroke-width="1.1"/>
<line x1="367.8" y1="652" x2="374.8" y2="652" stroke="#000" stroke-width="1.3"/>
<line x1="367.8" y1="660" x2="374.8" y2="660" stroke="#000" stroke-width="1.3"/>
<line x1="406.6" y1="605" x2="406.6" y2="617.7" stroke="#333" stroke-width="1.1"/>
<line x1="403.1" y1="605" x2="410.1" y2="605" stroke="#000" stroke-width="1.3"/>
<line x1="403.1" y1="617.7" x2="410.1" y2="617.7" stroke="#000" stroke-width="1.3"/>
<line x1="406.6" y1="619.6" x2="406.6" y2="630.5" stroke="#333" stroke-width="1.1"/>
<line x1="403.1" y1="619.6" x2="410.1" y2="619.6" stroke="#000" stroke-width="1.3"/>
<line x1="403.1" y1="630.5" x2="410.1" y2="630.5" stroke="#000" stroke-width="1.3"/>
<line x1="406.6" y1="626" x2="406.6" y2="636.7" stroke="#333" stroke-width="1.1"/>
<line x1="403.1" y1="626" x2="410.1" y2="626" stroke="#000" stroke-width="1.3"/>
<line x1="403.1" y1="636.7" x2="410.1" y2="636.7" stroke="#000" stroke-width="1.3"/>
<line x1="406.6" y1="646.6" x2="406.6" y2="655.7" stroke="#333" stroke-width="1.1"/>
<line x1="403.1" y1="646.6" x2="410.1" y2="646.6" stroke="#000" stroke-width="1.3"/>
<line x1="403.1" y1="655.7" x2="410.1" y2="655.7" stroke="#000" stroke-width="1.3"/>
<line x1="442" y1="652" x2="442" y2="661" stroke="#333" stroke-width="1.1"/>
<line x1="438.5" y1="652" x2="445.5" y2="652" stroke="#000" stroke-width="1.3"/>
<line x1="438.5" y1="661" x2="445.5" y2="661" stroke="#000" stroke-width="1.3"/>
<path d="M300.8,678.04 L304.16,681.4 L300.8,684.76 L297.44,681.4Z" fill="#0c0c6e"/>
<path d="M336,661.84 L339.36,665.2 L336,668.56 L332.64,665.2Z" fill="#0c0c6e"/>
<path d="M371.3,653.84 L374.66,657.2 L371.3,660.56 L367.94,657.2Z" fill="#0c0c6e"/>
<path d="M406.6,647.94 L409.96,651.3 L406.6,654.66 L403.24,651.3Z" fill="#0c0c6e"/>
<path d="M442,653.64 L445.36,657 L442,660.36 L438.64,657Z" fill="#0c0c6e"/>
<rect x="298.1" y="672.4" width="5.4" height="5.4" fill="#e61ee6"/>
<rect x="333.3" y="652.7" width="5.4" height="5.4" fill="#e61ee6"/>
<rect x="368.6" y="642.5" width="5.4" height="5.4" fill="#e61ee6"/>
<rect x="403.9" y="628.7" width="5.4" height="5.4" fill="#e61ee6"/>
<rect x="439.3" y="655.6" width="5.4" height="5.4" fill="#e61ee6"/>
<path d="M300.8,656.1 L303.91,661.77 L297.69,661.77Z" fill="#129a12"/>
<path d="M336,643.89 L339.11,649.57 L332.89,649.57Z" fill="#129a12"/>
<path d="M371.3,634 L374.41,639.67 L368.19,639.67Z" fill="#129a12"/>
<path d="M406.6,621.89 L409.71,627.57 L403.5,627.57Z" fill="#129a12"/>
<path d="M442,651.39 L445.11,657.07 L438.89,657.07Z" fill="#129a12"/>
<rect x="297.7" y="649.8" width="6.2" height="6.2" fill="#1414e6"/>
<rect x="332.9" y="640.3" width="6.2" height="6.2" fill="#1414e6"/>
<rect x="368.2" y="619.2" width="6.2" height="6.2" fill="#1414e6"/>
<rect x="403.5" y="608.2" width="6.2" height="6.2" fill="#1414e6"/>
<rect x="438.9" y="645.7" width="6.2" height="6.2" fill="#1414e6"/>
<text transform="translate(277.36,668.84) rotate(-90)" x="0" y="0" font-size="9.6" fill="#000" stroke="#000" stroke-width="0.3" textLength="76.9" lengthAdjust="spacingAndGlyphs">% of cell migrated</text>
<text x="364.01" y="721.6" font-size="8.3" fill="#000" stroke="#000" stroke-width="0.3" textLength="23.04" lengthAdjust="spacingAndGlyphs">MIP-2</text>
</svg>
</body></html>
